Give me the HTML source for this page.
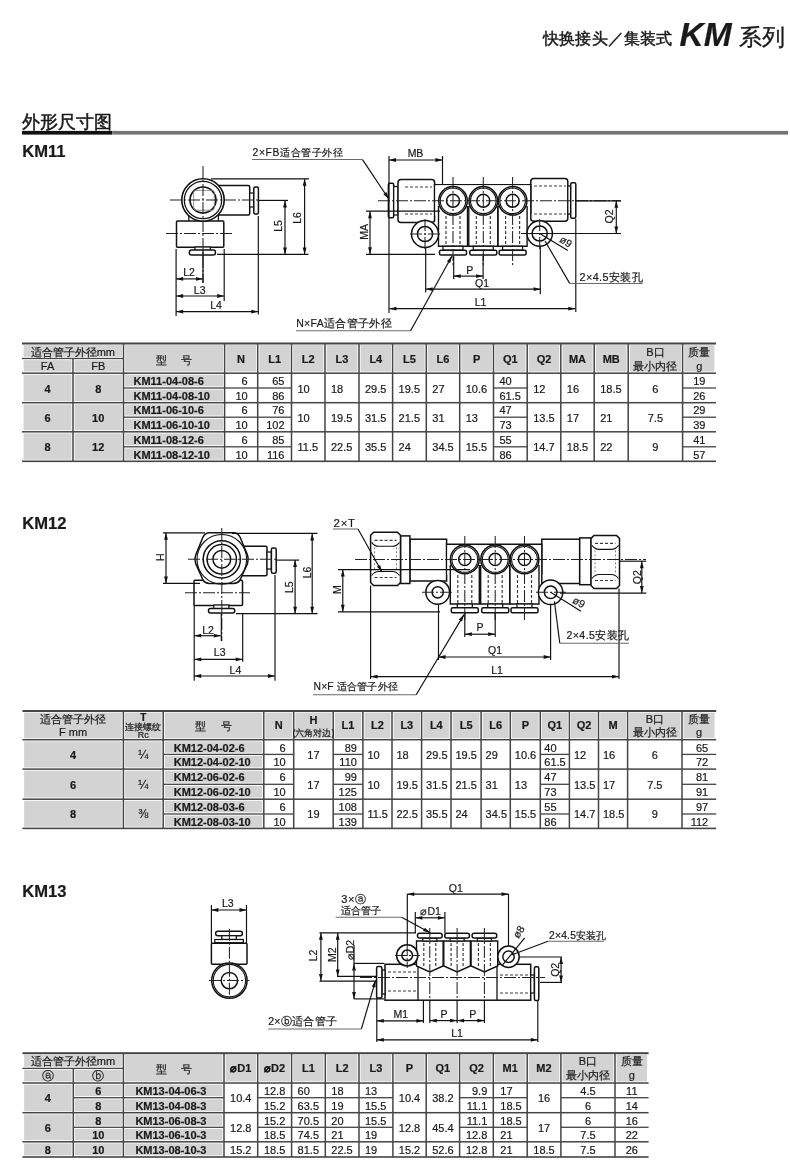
<!DOCTYPE html>
<html><head><meta charset="utf-8"><style>
html,body{margin:0;padding:0;background:#fff;width:790px;height:1175px;overflow:hidden}
svg{display:block;filter:grayscale(100%)}
text{font-family:"Liberation Sans", sans-serif;stroke:#1a1a1a;stroke-width:0.2px}
</style></head><body>
<svg width="790" height="1175" viewBox="0 0 790 1175">
<rect width="790" height="1175" fill="#fff"/>
<text x="543.0" y="44.0" font-size="16" font-weight="normal" text-anchor="start" fill="#1a1a1a" letter-spacing="0.2" style="stroke-width:0.45px">快换接头／集装式</text>
<text x="679.5" y="46.3" font-size="33.5" font-weight="bold" text-anchor="start" fill="#1a1a1a" font-style="italic">KM</text>
<text x="738.8" y="44.7" font-size="23" font-weight="normal" text-anchor="start" fill="#1a1a1a" style="stroke-width:0.35px">系列</text>
<text x="22.0" y="127.6" font-size="17.5" font-weight="normal" text-anchor="start" fill="#1a1a1a" style="stroke-width:0.5px">外形尺寸图</text>
<rect x="22.00" y="130.90" width="90.20" height="3.70" fill="#111"/>
<rect x="112.20" y="130.90" width="675.80" height="3.70" fill="#747474"/>
<text x="22.2" y="157.0" font-size="16.6" font-weight="bold" text-anchor="start" fill="#1a1a1a" >KM11</text>
<text x="22.2" y="528.6" font-size="16.6" font-weight="bold" text-anchor="start" fill="#1a1a1a" >KM12</text>
<text x="22.2" y="897.4" font-size="16.6" font-weight="bold" text-anchor="start" fill="#1a1a1a" >KM13</text>
<rect x="23.60" y="345.10" width="98.30" height="11.80" fill="#d3d3d3"/>
<rect x="23.60" y="360.10" width="47.80" height="11.50" fill="#d3d3d3"/>
<rect x="74.60" y="360.10" width="47.30" height="11.50" fill="#d3d3d3"/>
<rect x="125.10" y="345.10" width="97.90" height="26.50" fill="#d3d3d3"/>
<rect x="226.20" y="345.10" width="29.90" height="26.50" fill="#d3d3d3"/>
<rect x="259.30" y="345.10" width="30.60" height="26.50" fill="#d3d3d3"/>
<rect x="293.10" y="345.10" width="30.30" height="26.50" fill="#d3d3d3"/>
<rect x="326.60" y="345.10" width="30.80" height="26.50" fill="#d3d3d3"/>
<rect x="360.60" y="345.10" width="30.40" height="26.50" fill="#d3d3d3"/>
<rect x="394.20" y="345.10" width="30.50" height="26.50" fill="#d3d3d3"/>
<rect x="427.90" y="345.10" width="30.20" height="26.50" fill="#d3d3d3"/>
<rect x="461.30" y="345.10" width="30.60" height="26.50" fill="#d3d3d3"/>
<rect x="495.10" y="345.10" width="30.50" height="26.50" fill="#d3d3d3"/>
<rect x="528.80" y="345.10" width="30.40" height="26.50" fill="#d3d3d3"/>
<rect x="562.40" y="345.10" width="30.20" height="26.50" fill="#d3d3d3"/>
<rect x="595.80" y="345.10" width="30.80" height="26.50" fill="#d3d3d3"/>
<rect x="629.80" y="345.10" width="51.20" height="26.50" fill="#d3d3d3"/>
<rect x="684.20" y="345.10" width="30.20" height="26.50" fill="#d3d3d3"/>
<rect x="23.60" y="374.80" width="47.80" height="26.30" fill="#d3d3d3"/>
<rect x="74.60" y="374.80" width="47.30" height="26.30" fill="#d3d3d3"/>
<rect x="125.10" y="374.80" width="97.90" height="11.60" fill="#d3d3d3"/>
<rect x="125.10" y="389.60" width="97.90" height="11.50" fill="#d3d3d3"/>
<rect x="23.60" y="404.30" width="47.80" height="25.90" fill="#d3d3d3"/>
<rect x="74.60" y="404.30" width="47.30" height="25.90" fill="#d3d3d3"/>
<rect x="125.10" y="404.30" width="97.90" height="11.30" fill="#d3d3d3"/>
<rect x="125.10" y="418.80" width="97.90" height="11.40" fill="#d3d3d3"/>
<rect x="23.60" y="433.40" width="47.80" height="26.30" fill="#d3d3d3"/>
<rect x="74.60" y="433.40" width="47.30" height="26.30" fill="#d3d3d3"/>
<rect x="125.10" y="433.40" width="97.90" height="11.80" fill="#d3d3d3"/>
<rect x="125.10" y="448.40" width="97.90" height="11.30" fill="#d3d3d3"/>
<rect x="22.00" y="342.50" width="694.00" height="2.00" fill="#454545"/>
<rect x="22.00" y="357.85" width="101.50" height="1.30" fill="#454545"/>
<rect x="22.00" y="372.45" width="694.00" height="1.50" fill="#454545"/>
<rect x="22.00" y="401.95" width="694.00" height="1.50" fill="#454545"/>
<rect x="22.00" y="431.05" width="694.00" height="1.50" fill="#454545"/>
<rect x="22.00" y="460.50" width="694.00" height="1.60" fill="#454545"/>
<rect x="123.50" y="387.35" width="168.00" height="1.30" fill="#454545"/>
<rect x="493.50" y="387.35" width="33.70" height="1.30" fill="#454545"/>
<rect x="682.60" y="387.35" width="33.40" height="1.30" fill="#454545"/>
<rect x="123.50" y="416.55" width="168.00" height="1.30" fill="#454545"/>
<rect x="493.50" y="416.55" width="33.70" height="1.30" fill="#454545"/>
<rect x="682.60" y="416.55" width="33.40" height="1.30" fill="#454545"/>
<rect x="123.50" y="446.15" width="168.00" height="1.30" fill="#454545"/>
<rect x="493.50" y="446.15" width="33.70" height="1.30" fill="#454545"/>
<rect x="682.60" y="446.15" width="33.40" height="1.30" fill="#454545"/>
<rect x="72.25" y="358.50" width="1.50" height="102.80" fill="#454545"/>
<rect x="122.75" y="343.50" width="1.50" height="117.80" fill="#454545"/>
<rect x="223.85" y="343.50" width="1.50" height="117.80" fill="#454545"/>
<rect x="256.95" y="343.50" width="1.50" height="117.80" fill="#454545"/>
<rect x="290.75" y="343.50" width="1.50" height="117.80" fill="#454545"/>
<rect x="324.25" y="343.50" width="1.50" height="117.80" fill="#454545"/>
<rect x="358.25" y="343.50" width="1.50" height="117.80" fill="#454545"/>
<rect x="391.85" y="343.50" width="1.50" height="117.80" fill="#454545"/>
<rect x="425.55" y="343.50" width="1.50" height="117.80" fill="#454545"/>
<rect x="458.95" y="343.50" width="1.50" height="117.80" fill="#454545"/>
<rect x="492.75" y="343.50" width="1.50" height="117.80" fill="#454545"/>
<rect x="526.45" y="343.50" width="1.50" height="117.80" fill="#454545"/>
<rect x="560.05" y="343.50" width="1.50" height="117.80" fill="#454545"/>
<rect x="593.45" y="343.50" width="1.50" height="117.80" fill="#454545"/>
<rect x="627.45" y="343.50" width="1.50" height="117.80" fill="#454545"/>
<rect x="681.85" y="343.50" width="1.50" height="117.80" fill="#454545"/>
<text x="72.8" y="355.5" font-size="11" font-weight="normal" text-anchor="middle" fill="#1a1a1a" >适合管子外径mm</text>
<text x="47.5" y="370.0" font-size="11" font-weight="normal" text-anchor="middle" fill="#1a1a1a" >FA</text>
<text x="98.2" y="370.0" font-size="11" font-weight="normal" text-anchor="middle" fill="#1a1a1a" >FB</text>
<text x="174.1" y="364.0" font-size="11" font-weight="normal" text-anchor="middle" fill="#1a1a1a" >型　 号</text>
<text x="241.1" y="362.5" font-size="11" font-weight="bold" text-anchor="middle" fill="#1a1a1a" >N</text>
<text x="274.6" y="362.5" font-size="11" font-weight="bold" text-anchor="middle" fill="#1a1a1a" >L1</text>
<text x="308.2" y="362.5" font-size="11" font-weight="bold" text-anchor="middle" fill="#1a1a1a" >L2</text>
<text x="342.0" y="362.5" font-size="11" font-weight="bold" text-anchor="middle" fill="#1a1a1a" >L3</text>
<text x="375.8" y="362.5" font-size="11" font-weight="bold" text-anchor="middle" fill="#1a1a1a" >L4</text>
<text x="409.5" y="362.5" font-size="11" font-weight="bold" text-anchor="middle" fill="#1a1a1a" >L5</text>
<text x="443.0" y="362.5" font-size="11" font-weight="bold" text-anchor="middle" fill="#1a1a1a" >L6</text>
<text x="476.6" y="362.5" font-size="11" font-weight="bold" text-anchor="middle" fill="#1a1a1a" >P</text>
<text x="510.4" y="362.5" font-size="11" font-weight="bold" text-anchor="middle" fill="#1a1a1a" >Q1</text>
<text x="544.0" y="362.5" font-size="11" font-weight="bold" text-anchor="middle" fill="#1a1a1a" >Q2</text>
<text x="577.5" y="362.5" font-size="11" font-weight="bold" text-anchor="middle" fill="#1a1a1a" >MA</text>
<text x="611.2" y="362.5" font-size="11" font-weight="bold" text-anchor="middle" fill="#1a1a1a" >MB</text>
<text x="655.4" y="355.5" font-size="11" font-weight="normal" text-anchor="middle" fill="#1a1a1a" >B口</text>
<text x="655.4" y="369.5" font-size="11" font-weight="normal" text-anchor="middle" fill="#1a1a1a" >最小内径</text>
<text x="699.3" y="355.5" font-size="11" font-weight="normal" text-anchor="middle" fill="#1a1a1a" >质量</text>
<text x="699.3" y="369.5" font-size="11" font-weight="normal" text-anchor="middle" fill="#1a1a1a" >g</text>
<text x="47.5" y="392.6" font-size="11" font-weight="bold" text-anchor="middle" fill="#1a1a1a" >4</text>
<text x="98.2" y="392.6" font-size="11" font-weight="bold" text-anchor="middle" fill="#1a1a1a" >8</text>
<text x="297.5" y="392.6" font-size="11" font-weight="normal" text-anchor="start" fill="#1a1a1a" >10</text>
<text x="331.0" y="392.6" font-size="11" font-weight="normal" text-anchor="start" fill="#1a1a1a" >18</text>
<text x="365.0" y="392.6" font-size="11" font-weight="normal" text-anchor="start" fill="#1a1a1a" >29.5</text>
<text x="398.6" y="392.6" font-size="11" font-weight="normal" text-anchor="start" fill="#1a1a1a" >19.5</text>
<text x="432.3" y="392.6" font-size="11" font-weight="normal" text-anchor="start" fill="#1a1a1a" >27</text>
<text x="465.7" y="392.6" font-size="11" font-weight="normal" text-anchor="start" fill="#1a1a1a" >10.6</text>
<text x="533.2" y="392.6" font-size="11" font-weight="normal" text-anchor="start" fill="#1a1a1a" >12</text>
<text x="566.8" y="392.6" font-size="11" font-weight="normal" text-anchor="start" fill="#1a1a1a" >16</text>
<text x="600.2" y="392.6" font-size="11" font-weight="normal" text-anchor="start" fill="#1a1a1a" >18.5</text>
<text x="655.4" y="392.6" font-size="11" font-weight="normal" text-anchor="middle" fill="#1a1a1a" >6</text>
<text x="47.5" y="421.9" font-size="11" font-weight="bold" text-anchor="middle" fill="#1a1a1a" >6</text>
<text x="98.2" y="421.9" font-size="11" font-weight="bold" text-anchor="middle" fill="#1a1a1a" >10</text>
<text x="297.5" y="421.9" font-size="11" font-weight="normal" text-anchor="start" fill="#1a1a1a" >10</text>
<text x="331.0" y="421.9" font-size="11" font-weight="normal" text-anchor="start" fill="#1a1a1a" >19.5</text>
<text x="365.0" y="421.9" font-size="11" font-weight="normal" text-anchor="start" fill="#1a1a1a" >31.5</text>
<text x="398.6" y="421.9" font-size="11" font-weight="normal" text-anchor="start" fill="#1a1a1a" >21.5</text>
<text x="432.3" y="421.9" font-size="11" font-weight="normal" text-anchor="start" fill="#1a1a1a" >31</text>
<text x="465.7" y="421.9" font-size="11" font-weight="normal" text-anchor="start" fill="#1a1a1a" >13</text>
<text x="533.2" y="421.9" font-size="11" font-weight="normal" text-anchor="start" fill="#1a1a1a" >13.5</text>
<text x="566.8" y="421.9" font-size="11" font-weight="normal" text-anchor="start" fill="#1a1a1a" >17</text>
<text x="600.2" y="421.9" font-size="11" font-weight="normal" text-anchor="start" fill="#1a1a1a" >21</text>
<text x="655.4" y="421.9" font-size="11" font-weight="normal" text-anchor="middle" fill="#1a1a1a" >7.5</text>
<text x="47.5" y="451.2" font-size="11" font-weight="bold" text-anchor="middle" fill="#1a1a1a" >8</text>
<text x="98.2" y="451.2" font-size="11" font-weight="bold" text-anchor="middle" fill="#1a1a1a" >12</text>
<text x="297.5" y="451.2" font-size="11" font-weight="normal" text-anchor="start" fill="#1a1a1a" >11.5</text>
<text x="331.0" y="451.2" font-size="11" font-weight="normal" text-anchor="start" fill="#1a1a1a" >22.5</text>
<text x="365.0" y="451.2" font-size="11" font-weight="normal" text-anchor="start" fill="#1a1a1a" >35.5</text>
<text x="398.6" y="451.2" font-size="11" font-weight="normal" text-anchor="start" fill="#1a1a1a" >24</text>
<text x="432.3" y="451.2" font-size="11" font-weight="normal" text-anchor="start" fill="#1a1a1a" >34.5</text>
<text x="465.7" y="451.2" font-size="11" font-weight="normal" text-anchor="start" fill="#1a1a1a" >15.5</text>
<text x="533.2" y="451.2" font-size="11" font-weight="normal" text-anchor="start" fill="#1a1a1a" >14.7</text>
<text x="566.8" y="451.2" font-size="11" font-weight="normal" text-anchor="start" fill="#1a1a1a" >18.5</text>
<text x="600.2" y="451.2" font-size="11" font-weight="normal" text-anchor="start" fill="#1a1a1a" >22</text>
<text x="655.4" y="451.2" font-size="11" font-weight="normal" text-anchor="middle" fill="#1a1a1a" >9</text>
<text x="133.5" y="385.1" font-size="11" font-weight="bold" text-anchor="start" fill="#1a1a1a" >KM11-04-08-6</text>
<text x="247.7" y="385.1" font-size="11" font-weight="normal" text-anchor="end" fill="#1a1a1a" >6</text>
<text x="284.5" y="385.1" font-size="11" font-weight="normal" text-anchor="end" fill="#1a1a1a" >65</text>
<text x="499.5" y="385.1" font-size="11" font-weight="normal" text-anchor="start" fill="#1a1a1a" >40</text>
<text x="699.3" y="385.1" font-size="11" font-weight="normal" text-anchor="middle" fill="#1a1a1a" >19</text>
<text x="133.5" y="399.9" font-size="11" font-weight="bold" text-anchor="start" fill="#1a1a1a" >KM11-04-08-10</text>
<text x="247.7" y="399.9" font-size="11" font-weight="normal" text-anchor="end" fill="#1a1a1a" >10</text>
<text x="284.5" y="399.9" font-size="11" font-weight="normal" text-anchor="end" fill="#1a1a1a" >86</text>
<text x="499.5" y="399.9" font-size="11" font-weight="normal" text-anchor="start" fill="#1a1a1a" >61.5</text>
<text x="699.3" y="399.9" font-size="11" font-weight="normal" text-anchor="middle" fill="#1a1a1a" >26</text>
<text x="133.5" y="414.4" font-size="11" font-weight="bold" text-anchor="start" fill="#1a1a1a" >KM11-06-10-6</text>
<text x="247.7" y="414.4" font-size="11" font-weight="normal" text-anchor="end" fill="#1a1a1a" >6</text>
<text x="284.5" y="414.4" font-size="11" font-weight="normal" text-anchor="end" fill="#1a1a1a" >76</text>
<text x="499.5" y="414.4" font-size="11" font-weight="normal" text-anchor="start" fill="#1a1a1a" >47</text>
<text x="699.3" y="414.4" font-size="11" font-weight="normal" text-anchor="middle" fill="#1a1a1a" >29</text>
<text x="133.5" y="429.0" font-size="11" font-weight="bold" text-anchor="start" fill="#1a1a1a" >KM11-06-10-10</text>
<text x="247.7" y="429.0" font-size="11" font-weight="normal" text-anchor="end" fill="#1a1a1a" >10</text>
<text x="284.5" y="429.0" font-size="11" font-weight="normal" text-anchor="end" fill="#1a1a1a" >102</text>
<text x="499.5" y="429.0" font-size="11" font-weight="normal" text-anchor="start" fill="#1a1a1a" >73</text>
<text x="699.3" y="429.0" font-size="11" font-weight="normal" text-anchor="middle" fill="#1a1a1a" >39</text>
<text x="133.5" y="443.8" font-size="11" font-weight="bold" text-anchor="start" fill="#1a1a1a" >KM11-08-12-6</text>
<text x="247.7" y="443.8" font-size="11" font-weight="normal" text-anchor="end" fill="#1a1a1a" >6</text>
<text x="284.5" y="443.8" font-size="11" font-weight="normal" text-anchor="end" fill="#1a1a1a" >85</text>
<text x="499.5" y="443.8" font-size="11" font-weight="normal" text-anchor="start" fill="#1a1a1a" >55</text>
<text x="699.3" y="443.8" font-size="11" font-weight="normal" text-anchor="middle" fill="#1a1a1a" >41</text>
<text x="133.5" y="458.6" font-size="11" font-weight="bold" text-anchor="start" fill="#1a1a1a" >KM11-08-12-10</text>
<text x="247.7" y="458.6" font-size="11" font-weight="normal" text-anchor="end" fill="#1a1a1a" >10</text>
<text x="284.5" y="458.6" font-size="11" font-weight="normal" text-anchor="end" fill="#1a1a1a" >116</text>
<text x="499.5" y="458.6" font-size="11" font-weight="normal" text-anchor="start" fill="#1a1a1a" >86</text>
<text x="699.3" y="458.6" font-size="11" font-weight="normal" text-anchor="middle" fill="#1a1a1a" >57</text>
<rect x="24.10" y="712.60" width="97.70" height="25.50" fill="#d3d3d3"/>
<rect x="125.00" y="712.60" width="36.60" height="25.50" fill="#d3d3d3"/>
<rect x="164.80" y="712.60" width="97.40" height="25.50" fill="#d3d3d3"/>
<rect x="265.40" y="712.60" width="26.70" height="25.50" fill="#d3d3d3"/>
<rect x="295.30" y="712.60" width="36.30" height="25.50" fill="#d3d3d3"/>
<rect x="334.80" y="712.60" width="26.50" height="25.50" fill="#d3d3d3"/>
<rect x="364.50" y="712.60" width="25.90" height="25.50" fill="#d3d3d3"/>
<rect x="393.60" y="712.60" width="26.40" height="25.50" fill="#d3d3d3"/>
<rect x="423.20" y="712.60" width="26.20" height="25.50" fill="#d3d3d3"/>
<rect x="452.60" y="712.60" width="26.90" height="25.50" fill="#d3d3d3"/>
<rect x="482.70" y="712.60" width="26.00" height="25.50" fill="#d3d3d3"/>
<rect x="511.90" y="712.60" width="26.80" height="25.50" fill="#d3d3d3"/>
<rect x="541.90" y="712.60" width="25.90" height="25.50" fill="#d3d3d3"/>
<rect x="571.00" y="712.60" width="25.90" height="25.50" fill="#d3d3d3"/>
<rect x="600.10" y="712.60" width="25.90" height="25.50" fill="#d3d3d3"/>
<rect x="629.20" y="712.60" width="51.20" height="25.50" fill="#d3d3d3"/>
<rect x="683.60" y="712.60" width="31.00" height="25.50" fill="#d3d3d3"/>
<rect x="24.10" y="741.30" width="97.70" height="26.20" fill="#d3d3d3"/>
<rect x="125.00" y="741.30" width="36.60" height="26.20" fill="#d3d3d3"/>
<rect x="164.80" y="741.30" width="97.40" height="11.50" fill="#d3d3d3"/>
<rect x="164.80" y="756.00" width="97.40" height="11.50" fill="#d3d3d3"/>
<rect x="24.10" y="770.70" width="97.70" height="26.90" fill="#d3d3d3"/>
<rect x="125.00" y="770.70" width="36.60" height="26.90" fill="#d3d3d3"/>
<rect x="164.80" y="770.70" width="97.40" height="12.00" fill="#d3d3d3"/>
<rect x="164.80" y="785.90" width="97.40" height="11.70" fill="#d3d3d3"/>
<rect x="24.10" y="800.80" width="97.70" height="26.00" fill="#d3d3d3"/>
<rect x="125.00" y="800.80" width="36.60" height="26.00" fill="#d3d3d3"/>
<rect x="164.80" y="800.80" width="97.40" height="11.60" fill="#d3d3d3"/>
<rect x="164.80" y="815.60" width="97.40" height="11.20" fill="#d3d3d3"/>
<rect x="22.50" y="710.00" width="693.70" height="2.00" fill="#454545"/>
<rect x="22.50" y="738.95" width="693.70" height="1.50" fill="#454545"/>
<rect x="22.50" y="768.35" width="693.70" height="1.50" fill="#454545"/>
<rect x="22.50" y="798.45" width="693.70" height="1.50" fill="#454545"/>
<rect x="22.50" y="827.60" width="693.70" height="1.60" fill="#454545"/>
<rect x="163.20" y="753.75" width="130.50" height="1.30" fill="#454545"/>
<rect x="333.20" y="753.75" width="29.70" height="1.30" fill="#454545"/>
<rect x="540.30" y="753.75" width="29.10" height="1.30" fill="#454545"/>
<rect x="682.00" y="753.75" width="34.20" height="1.30" fill="#454545"/>
<rect x="163.20" y="783.65" width="130.50" height="1.30" fill="#454545"/>
<rect x="333.20" y="783.65" width="29.70" height="1.30" fill="#454545"/>
<rect x="540.30" y="783.65" width="29.10" height="1.30" fill="#454545"/>
<rect x="682.00" y="783.65" width="34.20" height="1.30" fill="#454545"/>
<rect x="163.20" y="813.35" width="130.50" height="1.30" fill="#454545"/>
<rect x="333.20" y="813.35" width="29.70" height="1.30" fill="#454545"/>
<rect x="540.30" y="813.35" width="29.10" height="1.30" fill="#454545"/>
<rect x="682.00" y="813.35" width="34.20" height="1.30" fill="#454545"/>
<rect x="122.65" y="711.00" width="1.50" height="117.40" fill="#454545"/>
<rect x="162.45" y="711.00" width="1.50" height="117.40" fill="#454545"/>
<rect x="263.05" y="711.00" width="1.50" height="117.40" fill="#454545"/>
<rect x="292.95" y="711.00" width="1.50" height="117.40" fill="#454545"/>
<rect x="332.45" y="711.00" width="1.50" height="117.40" fill="#454545"/>
<rect x="362.15" y="711.00" width="1.50" height="117.40" fill="#454545"/>
<rect x="391.25" y="711.00" width="1.50" height="117.40" fill="#454545"/>
<rect x="420.85" y="711.00" width="1.50" height="117.40" fill="#454545"/>
<rect x="450.25" y="711.00" width="1.50" height="117.40" fill="#454545"/>
<rect x="480.35" y="711.00" width="1.50" height="117.40" fill="#454545"/>
<rect x="509.55" y="711.00" width="1.50" height="117.40" fill="#454545"/>
<rect x="539.55" y="711.00" width="1.50" height="117.40" fill="#454545"/>
<rect x="568.65" y="711.00" width="1.50" height="117.40" fill="#454545"/>
<rect x="597.75" y="711.00" width="1.50" height="117.40" fill="#454545"/>
<rect x="626.85" y="711.00" width="1.50" height="117.40" fill="#454545"/>
<rect x="681.25" y="711.00" width="1.50" height="117.40" fill="#454545"/>
<text x="73.0" y="723.0" font-size="11" font-weight="normal" text-anchor="middle" fill="#1a1a1a" >适合管子外径</text>
<text x="73.0" y="736.0" font-size="11" font-weight="normal" text-anchor="middle" fill="#1a1a1a" >F mm</text>
<text x="143.3" y="721.0" font-size="10" font-weight="bold" text-anchor="middle" fill="#1a1a1a" >T</text>
<text x="143.3" y="730.0" font-size="8.5" font-weight="normal" text-anchor="middle" fill="#1a1a1a" >连接螺纹</text>
<text x="143.3" y="738.0" font-size="9" font-weight="normal" text-anchor="middle" fill="#1a1a1a" >Rc</text>
<text x="213.5" y="730.0" font-size="11" font-weight="normal" text-anchor="middle" fill="#1a1a1a" >型　 号</text>
<text x="278.8" y="729.0" font-size="11" font-weight="bold" text-anchor="middle" fill="#1a1a1a" >N</text>
<text x="313.4" y="724.0" font-size="11" font-weight="bold" text-anchor="middle" fill="#1a1a1a" >H</text>
<text x="313.4" y="736.0" font-size="9" font-weight="normal" text-anchor="middle" fill="#1a1a1a" >(六角对边)</text>
<text x="348.0" y="729.0" font-size="11" font-weight="bold" text-anchor="middle" fill="#1a1a1a" >L1</text>
<text x="377.4" y="729.0" font-size="11" font-weight="bold" text-anchor="middle" fill="#1a1a1a" >L2</text>
<text x="406.8" y="729.0" font-size="11" font-weight="bold" text-anchor="middle" fill="#1a1a1a" >L3</text>
<text x="436.3" y="729.0" font-size="11" font-weight="bold" text-anchor="middle" fill="#1a1a1a" >L4</text>
<text x="466.1" y="729.0" font-size="11" font-weight="bold" text-anchor="middle" fill="#1a1a1a" >L5</text>
<text x="495.7" y="729.0" font-size="11" font-weight="bold" text-anchor="middle" fill="#1a1a1a" >L6</text>
<text x="525.3" y="729.0" font-size="11" font-weight="bold" text-anchor="middle" fill="#1a1a1a" >P</text>
<text x="554.8" y="729.0" font-size="11" font-weight="bold" text-anchor="middle" fill="#1a1a1a" >Q1</text>
<text x="584.0" y="729.0" font-size="11" font-weight="bold" text-anchor="middle" fill="#1a1a1a" >Q2</text>
<text x="613.0" y="729.0" font-size="11" font-weight="bold" text-anchor="middle" fill="#1a1a1a" >M</text>
<text x="654.8" y="723.0" font-size="11" font-weight="normal" text-anchor="middle" fill="#1a1a1a" >B口</text>
<text x="654.8" y="736.0" font-size="11" font-weight="normal" text-anchor="middle" fill="#1a1a1a" >最小内径</text>
<text x="699.1" y="723.0" font-size="11" font-weight="normal" text-anchor="middle" fill="#1a1a1a" >质量</text>
<text x="699.1" y="736.0" font-size="11" font-weight="normal" text-anchor="middle" fill="#1a1a1a" >g</text>
<text x="73.0" y="759.0" font-size="11" font-weight="bold" text-anchor="middle" fill="#1a1a1a" >4</text>
<text x="143.3" y="759.0" font-size="12" font-weight="normal" text-anchor="middle" fill="#1a1a1a" >¼</text>
<text x="313.4" y="759.0" font-size="11" font-weight="normal" text-anchor="middle" fill="#1a1a1a" >17</text>
<text x="367.4" y="759.0" font-size="11" font-weight="normal" text-anchor="start" fill="#1a1a1a" >10</text>
<text x="396.5" y="759.0" font-size="11" font-weight="normal" text-anchor="start" fill="#1a1a1a" >18</text>
<text x="426.1" y="759.0" font-size="11" font-weight="normal" text-anchor="start" fill="#1a1a1a" >29.5</text>
<text x="455.5" y="759.0" font-size="11" font-weight="normal" text-anchor="start" fill="#1a1a1a" >19.5</text>
<text x="485.6" y="759.0" font-size="11" font-weight="normal" text-anchor="start" fill="#1a1a1a" >29</text>
<text x="514.8" y="759.0" font-size="11" font-weight="normal" text-anchor="start" fill="#1a1a1a" >10.6</text>
<text x="573.9" y="759.0" font-size="11" font-weight="normal" text-anchor="start" fill="#1a1a1a" >12</text>
<text x="603.0" y="759.0" font-size="11" font-weight="normal" text-anchor="start" fill="#1a1a1a" >16</text>
<text x="654.8" y="759.0" font-size="11" font-weight="normal" text-anchor="middle" fill="#1a1a1a" >6</text>
<text x="73.0" y="788.8" font-size="11" font-weight="bold" text-anchor="middle" fill="#1a1a1a" >6</text>
<text x="143.3" y="788.8" font-size="12" font-weight="normal" text-anchor="middle" fill="#1a1a1a" >¼</text>
<text x="313.4" y="788.8" font-size="11" font-weight="normal" text-anchor="middle" fill="#1a1a1a" >17</text>
<text x="367.4" y="788.8" font-size="11" font-weight="normal" text-anchor="start" fill="#1a1a1a" >10</text>
<text x="396.5" y="788.8" font-size="11" font-weight="normal" text-anchor="start" fill="#1a1a1a" >19.5</text>
<text x="426.1" y="788.8" font-size="11" font-weight="normal" text-anchor="start" fill="#1a1a1a" >31.5</text>
<text x="455.5" y="788.8" font-size="11" font-weight="normal" text-anchor="start" fill="#1a1a1a" >21.5</text>
<text x="485.6" y="788.8" font-size="11" font-weight="normal" text-anchor="start" fill="#1a1a1a" >31</text>
<text x="514.8" y="788.8" font-size="11" font-weight="normal" text-anchor="start" fill="#1a1a1a" >13</text>
<text x="573.9" y="788.8" font-size="11" font-weight="normal" text-anchor="start" fill="#1a1a1a" >13.5</text>
<text x="603.0" y="788.8" font-size="11" font-weight="normal" text-anchor="start" fill="#1a1a1a" >17</text>
<text x="654.8" y="788.8" font-size="11" font-weight="normal" text-anchor="middle" fill="#1a1a1a" >7.5</text>
<text x="73.0" y="818.4" font-size="11" font-weight="bold" text-anchor="middle" fill="#1a1a1a" >8</text>
<text x="143.3" y="818.4" font-size="12" font-weight="normal" text-anchor="middle" fill="#1a1a1a" >⅜</text>
<text x="313.4" y="818.4" font-size="11" font-weight="normal" text-anchor="middle" fill="#1a1a1a" >19</text>
<text x="367.4" y="818.4" font-size="11" font-weight="normal" text-anchor="start" fill="#1a1a1a" >11.5</text>
<text x="396.5" y="818.4" font-size="11" font-weight="normal" text-anchor="start" fill="#1a1a1a" >22.5</text>
<text x="426.1" y="818.4" font-size="11" font-weight="normal" text-anchor="start" fill="#1a1a1a" >35.5</text>
<text x="455.5" y="818.4" font-size="11" font-weight="normal" text-anchor="start" fill="#1a1a1a" >24</text>
<text x="485.6" y="818.4" font-size="11" font-weight="normal" text-anchor="start" fill="#1a1a1a" >34.5</text>
<text x="514.8" y="818.4" font-size="11" font-weight="normal" text-anchor="start" fill="#1a1a1a" >15.5</text>
<text x="573.9" y="818.4" font-size="11" font-weight="normal" text-anchor="start" fill="#1a1a1a" >14.7</text>
<text x="603.0" y="818.4" font-size="11" font-weight="normal" text-anchor="start" fill="#1a1a1a" >18.5</text>
<text x="654.8" y="818.4" font-size="11" font-weight="normal" text-anchor="middle" fill="#1a1a1a" >9</text>
<text x="173.7" y="751.5" font-size="11" font-weight="bold" text-anchor="start" fill="#1a1a1a" >KM12-04-02-6</text>
<text x="285.7" y="751.5" font-size="11" font-weight="normal" text-anchor="end" fill="#1a1a1a" >6</text>
<text x="356.9" y="751.5" font-size="11" font-weight="normal" text-anchor="end" fill="#1a1a1a" >89</text>
<text x="544.3" y="751.5" font-size="11" font-weight="normal" text-anchor="start" fill="#1a1a1a" >40</text>
<text x="708.2" y="751.5" font-size="11" font-weight="normal" text-anchor="end" fill="#1a1a1a" >65</text>
<text x="173.7" y="766.2" font-size="11" font-weight="bold" text-anchor="start" fill="#1a1a1a" >KM12-04-02-10</text>
<text x="285.7" y="766.2" font-size="11" font-weight="normal" text-anchor="end" fill="#1a1a1a" >10</text>
<text x="356.9" y="766.2" font-size="11" font-weight="normal" text-anchor="end" fill="#1a1a1a" >110</text>
<text x="544.3" y="766.2" font-size="11" font-weight="normal" text-anchor="start" fill="#1a1a1a" >61.5</text>
<text x="708.2" y="766.2" font-size="11" font-weight="normal" text-anchor="end" fill="#1a1a1a" >72</text>
<text x="173.7" y="781.2" font-size="11" font-weight="bold" text-anchor="start" fill="#1a1a1a" >KM12-06-02-6</text>
<text x="285.7" y="781.2" font-size="11" font-weight="normal" text-anchor="end" fill="#1a1a1a" >6</text>
<text x="356.9" y="781.2" font-size="11" font-weight="normal" text-anchor="end" fill="#1a1a1a" >99</text>
<text x="544.3" y="781.2" font-size="11" font-weight="normal" text-anchor="start" fill="#1a1a1a" >47</text>
<text x="708.2" y="781.2" font-size="11" font-weight="normal" text-anchor="end" fill="#1a1a1a" >81</text>
<text x="173.7" y="796.2" font-size="11" font-weight="bold" text-anchor="start" fill="#1a1a1a" >KM12-06-02-10</text>
<text x="285.7" y="796.2" font-size="11" font-weight="normal" text-anchor="end" fill="#1a1a1a" >10</text>
<text x="356.9" y="796.2" font-size="11" font-weight="normal" text-anchor="end" fill="#1a1a1a" >125</text>
<text x="544.3" y="796.2" font-size="11" font-weight="normal" text-anchor="start" fill="#1a1a1a" >73</text>
<text x="708.2" y="796.2" font-size="11" font-weight="normal" text-anchor="end" fill="#1a1a1a" >91</text>
<text x="173.7" y="811.1" font-size="11" font-weight="bold" text-anchor="start" fill="#1a1a1a" >KM12-08-03-6</text>
<text x="285.7" y="811.1" font-size="11" font-weight="normal" text-anchor="end" fill="#1a1a1a" >6</text>
<text x="356.9" y="811.1" font-size="11" font-weight="normal" text-anchor="end" fill="#1a1a1a" >108</text>
<text x="544.3" y="811.1" font-size="11" font-weight="normal" text-anchor="start" fill="#1a1a1a" >55</text>
<text x="708.2" y="811.1" font-size="11" font-weight="normal" text-anchor="end" fill="#1a1a1a" >97</text>
<text x="173.7" y="825.7" font-size="11" font-weight="bold" text-anchor="start" fill="#1a1a1a" >KM12-08-03-10</text>
<text x="285.7" y="825.7" font-size="11" font-weight="normal" text-anchor="end" fill="#1a1a1a" >10</text>
<text x="356.9" y="825.7" font-size="11" font-weight="normal" text-anchor="end" fill="#1a1a1a" >139</text>
<text x="544.3" y="825.7" font-size="11" font-weight="normal" text-anchor="start" fill="#1a1a1a" >86</text>
<text x="708.2" y="825.7" font-size="11" font-weight="normal" text-anchor="end" fill="#1a1a1a" >112</text>
<rect x="24.10" y="1054.80" width="97.70" height="12.00" fill="#d3d3d3"/>
<rect x="24.10" y="1070.00" width="47.60" height="11.40" fill="#d3d3d3"/>
<rect x="74.90" y="1070.00" width="46.90" height="11.40" fill="#d3d3d3"/>
<rect x="125.00" y="1054.80" width="97.40" height="26.60" fill="#d3d3d3"/>
<rect x="225.60" y="1054.80" width="30.50" height="26.60" fill="#d3d3d3"/>
<rect x="259.30" y="1054.80" width="30.70" height="26.60" fill="#d3d3d3"/>
<rect x="293.20" y="1054.80" width="30.50" height="26.60" fill="#d3d3d3"/>
<rect x="326.90" y="1054.80" width="30.50" height="26.60" fill="#d3d3d3"/>
<rect x="360.60" y="1054.80" width="30.70" height="26.60" fill="#d3d3d3"/>
<rect x="394.50" y="1054.80" width="30.10" height="26.60" fill="#d3d3d3"/>
<rect x="427.80" y="1054.80" width="30.20" height="26.60" fill="#d3d3d3"/>
<rect x="461.20" y="1054.80" width="30.50" height="26.60" fill="#d3d3d3"/>
<rect x="494.90" y="1054.80" width="30.70" height="26.60" fill="#d3d3d3"/>
<rect x="528.80" y="1054.80" width="30.50" height="26.60" fill="#d3d3d3"/>
<rect x="562.50" y="1054.80" width="50.90" height="26.60" fill="#d3d3d3"/>
<rect x="616.60" y="1054.80" width="30.40" height="26.60" fill="#d3d3d3"/>
<rect x="24.10" y="1084.60" width="47.60" height="26.50" fill="#d3d3d3"/>
<rect x="24.10" y="1114.30" width="47.60" height="25.90" fill="#d3d3d3"/>
<rect x="24.10" y="1143.40" width="47.60" height="12.00" fill="#d3d3d3"/>
<rect x="74.90" y="1084.60" width="46.90" height="11.50" fill="#d3d3d3"/>
<rect x="125.00" y="1084.60" width="97.40" height="11.50" fill="#d3d3d3"/>
<rect x="74.90" y="1099.30" width="46.90" height="11.80" fill="#d3d3d3"/>
<rect x="125.00" y="1099.30" width="97.40" height="11.80" fill="#d3d3d3"/>
<rect x="74.90" y="1114.30" width="46.90" height="11.40" fill="#d3d3d3"/>
<rect x="125.00" y="1114.30" width="97.40" height="11.40" fill="#d3d3d3"/>
<rect x="74.90" y="1128.90" width="46.90" height="11.30" fill="#d3d3d3"/>
<rect x="125.00" y="1128.90" width="97.40" height="11.30" fill="#d3d3d3"/>
<rect x="74.90" y="1143.40" width="46.90" height="12.00" fill="#d3d3d3"/>
<rect x="125.00" y="1143.40" width="97.40" height="12.00" fill="#d3d3d3"/>
<rect x="22.50" y="1052.20" width="626.10" height="2.00" fill="#454545"/>
<rect x="22.50" y="1067.75" width="100.90" height="1.30" fill="#454545"/>
<rect x="22.50" y="1082.25" width="626.10" height="1.50" fill="#454545"/>
<rect x="22.50" y="1111.95" width="626.10" height="1.50" fill="#454545"/>
<rect x="22.50" y="1141.05" width="626.10" height="1.50" fill="#454545"/>
<rect x="22.50" y="1156.20" width="626.10" height="1.60" fill="#454545"/>
<rect x="73.30" y="1097.05" width="150.70" height="1.30" fill="#454545"/>
<rect x="257.70" y="1097.05" width="135.20" height="1.30" fill="#454545"/>
<rect x="459.60" y="1097.05" width="67.60" height="1.30" fill="#454545"/>
<rect x="560.90" y="1097.05" width="87.70" height="1.30" fill="#454545"/>
<rect x="73.30" y="1126.65" width="150.70" height="1.30" fill="#454545"/>
<rect x="257.70" y="1126.65" width="135.20" height="1.30" fill="#454545"/>
<rect x="459.60" y="1126.65" width="67.60" height="1.30" fill="#454545"/>
<rect x="560.90" y="1126.65" width="87.70" height="1.30" fill="#454545"/>
<rect x="72.55" y="1068.40" width="1.50" height="88.60" fill="#454545"/>
<rect x="122.65" y="1053.20" width="1.50" height="103.80" fill="#454545"/>
<rect x="223.25" y="1053.20" width="1.50" height="103.80" fill="#454545"/>
<rect x="256.95" y="1053.20" width="1.50" height="103.80" fill="#454545"/>
<rect x="290.85" y="1053.20" width="1.50" height="103.80" fill="#454545"/>
<rect x="324.55" y="1053.20" width="1.50" height="103.80" fill="#454545"/>
<rect x="358.25" y="1053.20" width="1.50" height="103.80" fill="#454545"/>
<rect x="392.15" y="1053.20" width="1.50" height="103.80" fill="#454545"/>
<rect x="425.45" y="1053.20" width="1.50" height="103.80" fill="#454545"/>
<rect x="458.85" y="1053.20" width="1.50" height="103.80" fill="#454545"/>
<rect x="492.55" y="1053.20" width="1.50" height="103.80" fill="#454545"/>
<rect x="526.45" y="1053.20" width="1.50" height="103.80" fill="#454545"/>
<rect x="560.15" y="1053.20" width="1.50" height="103.80" fill="#454545"/>
<rect x="614.25" y="1053.20" width="1.50" height="103.80" fill="#454545"/>
<text x="73.0" y="1065.0" font-size="11" font-weight="normal" text-anchor="middle" fill="#1a1a1a" >适合管子外径mm</text>
<text x="47.9" y="1080.0" font-size="12" font-weight="normal" text-anchor="middle" fill="#1a1a1a" >ⓐ</text>
<text x="98.3" y="1080.0" font-size="12" font-weight="normal" text-anchor="middle" fill="#1a1a1a" >ⓑ</text>
<text x="173.7" y="1073.0" font-size="11" font-weight="normal" text-anchor="middle" fill="#1a1a1a" >型　 号</text>
<text x="240.8" y="1072.0" font-size="11" font-weight="bold" text-anchor="middle" fill="#1a1a1a" >⌀D1</text>
<text x="274.6" y="1072.0" font-size="11" font-weight="bold" text-anchor="middle" fill="#1a1a1a" >⌀D2</text>
<text x="308.5" y="1072.0" font-size="11" font-weight="bold" text-anchor="middle" fill="#1a1a1a" >L1</text>
<text x="342.1" y="1072.0" font-size="11" font-weight="bold" text-anchor="middle" fill="#1a1a1a" >L2</text>
<text x="375.9" y="1072.0" font-size="11" font-weight="bold" text-anchor="middle" fill="#1a1a1a" >L3</text>
<text x="409.5" y="1072.0" font-size="11" font-weight="bold" text-anchor="middle" fill="#1a1a1a" >P</text>
<text x="442.9" y="1072.0" font-size="11" font-weight="bold" text-anchor="middle" fill="#1a1a1a" >Q1</text>
<text x="476.5" y="1072.0" font-size="11" font-weight="bold" text-anchor="middle" fill="#1a1a1a" >Q2</text>
<text x="510.2" y="1072.0" font-size="11" font-weight="bold" text-anchor="middle" fill="#1a1a1a" >M1</text>
<text x="544.0" y="1072.0" font-size="11" font-weight="bold" text-anchor="middle" fill="#1a1a1a" >M2</text>
<text x="588.0" y="1065.0" font-size="11" font-weight="normal" text-anchor="middle" fill="#1a1a1a" >B口</text>
<text x="588.0" y="1079.0" font-size="11" font-weight="normal" text-anchor="middle" fill="#1a1a1a" >最小内径</text>
<text x="631.8" y="1065.0" font-size="11" font-weight="normal" text-anchor="middle" fill="#1a1a1a" >质量</text>
<text x="631.8" y="1079.0" font-size="11" font-weight="normal" text-anchor="middle" fill="#1a1a1a" >g</text>
<text x="47.9" y="1102.4" font-size="11" font-weight="bold" text-anchor="middle" fill="#1a1a1a" >4</text>
<text x="240.8" y="1102.4" font-size="11" font-weight="normal" text-anchor="middle" fill="#1a1a1a" >10.4</text>
<text x="409.5" y="1102.4" font-size="11" font-weight="normal" text-anchor="middle" fill="#1a1a1a" >10.4</text>
<text x="442.9" y="1102.4" font-size="11" font-weight="normal" text-anchor="middle" fill="#1a1a1a" >38.2</text>
<text x="544.0" y="1102.4" font-size="11" font-weight="normal" text-anchor="middle" fill="#1a1a1a" >16</text>
<text x="47.9" y="1131.8" font-size="11" font-weight="bold" text-anchor="middle" fill="#1a1a1a" >6</text>
<text x="240.8" y="1131.8" font-size="11" font-weight="normal" text-anchor="middle" fill="#1a1a1a" >12.8</text>
<text x="409.5" y="1131.8" font-size="11" font-weight="normal" text-anchor="middle" fill="#1a1a1a" >12.8</text>
<text x="442.9" y="1131.8" font-size="11" font-weight="normal" text-anchor="middle" fill="#1a1a1a" >45.4</text>
<text x="544.0" y="1131.8" font-size="11" font-weight="normal" text-anchor="middle" fill="#1a1a1a" >17</text>
<text x="47.9" y="1154.0" font-size="11" font-weight="bold" text-anchor="middle" fill="#1a1a1a" >8</text>
<text x="240.8" y="1154.0" font-size="11" font-weight="normal" text-anchor="middle" fill="#1a1a1a" >15.2</text>
<text x="409.5" y="1154.0" font-size="11" font-weight="normal" text-anchor="middle" fill="#1a1a1a" >15.2</text>
<text x="442.9" y="1154.0" font-size="11" font-weight="normal" text-anchor="middle" fill="#1a1a1a" >52.6</text>
<text x="544.0" y="1154.0" font-size="11" font-weight="normal" text-anchor="middle" fill="#1a1a1a" >18.5</text>
<text x="98.3" y="1094.8" font-size="11" font-weight="bold" text-anchor="middle" fill="#1a1a1a" >6</text>
<text x="135.4" y="1094.8" font-size="11" font-weight="bold" text-anchor="start" fill="#1a1a1a" >KM13-04-06-3</text>
<text x="274.6" y="1094.8" font-size="11" font-weight="normal" text-anchor="middle" fill="#1a1a1a" >12.8</text>
<text x="297.6" y="1094.8" font-size="11" font-weight="normal" text-anchor="start" fill="#1a1a1a" >60</text>
<text x="331.3" y="1094.8" font-size="11" font-weight="normal" text-anchor="start" fill="#1a1a1a" >18</text>
<text x="365.0" y="1094.8" font-size="11" font-weight="normal" text-anchor="start" fill="#1a1a1a" >13</text>
<text x="487.3" y="1094.8" font-size="11" font-weight="normal" text-anchor="end" fill="#1a1a1a" >9.9</text>
<text x="500.3" y="1094.8" font-size="11" font-weight="normal" text-anchor="start" fill="#1a1a1a" >17</text>
<text x="588.0" y="1094.8" font-size="11" font-weight="normal" text-anchor="middle" fill="#1a1a1a" >4.5</text>
<text x="631.8" y="1094.8" font-size="11" font-weight="normal" text-anchor="middle" fill="#1a1a1a" >11</text>
<text x="98.3" y="1109.7" font-size="11" font-weight="bold" text-anchor="middle" fill="#1a1a1a" >8</text>
<text x="135.4" y="1109.7" font-size="11" font-weight="bold" text-anchor="start" fill="#1a1a1a" >KM13-04-08-3</text>
<text x="274.6" y="1109.7" font-size="11" font-weight="normal" text-anchor="middle" fill="#1a1a1a" >15.2</text>
<text x="297.6" y="1109.7" font-size="11" font-weight="normal" text-anchor="start" fill="#1a1a1a" >63.5</text>
<text x="331.3" y="1109.7" font-size="11" font-weight="normal" text-anchor="start" fill="#1a1a1a" >19</text>
<text x="365.0" y="1109.7" font-size="11" font-weight="normal" text-anchor="start" fill="#1a1a1a" >15.5</text>
<text x="487.3" y="1109.7" font-size="11" font-weight="normal" text-anchor="end" fill="#1a1a1a" >11.1</text>
<text x="500.3" y="1109.7" font-size="11" font-weight="normal" text-anchor="start" fill="#1a1a1a" >18.5</text>
<text x="588.0" y="1109.7" font-size="11" font-weight="normal" text-anchor="middle" fill="#1a1a1a" >6</text>
<text x="631.8" y="1109.7" font-size="11" font-weight="normal" text-anchor="middle" fill="#1a1a1a" >14</text>
<text x="98.3" y="1124.5" font-size="11" font-weight="bold" text-anchor="middle" fill="#1a1a1a" >8</text>
<text x="135.4" y="1124.5" font-size="11" font-weight="bold" text-anchor="start" fill="#1a1a1a" >KM13-06-08-3</text>
<text x="274.6" y="1124.5" font-size="11" font-weight="normal" text-anchor="middle" fill="#1a1a1a" >15.2</text>
<text x="297.6" y="1124.5" font-size="11" font-weight="normal" text-anchor="start" fill="#1a1a1a" >70.5</text>
<text x="331.3" y="1124.5" font-size="11" font-weight="normal" text-anchor="start" fill="#1a1a1a" >20</text>
<text x="365.0" y="1124.5" font-size="11" font-weight="normal" text-anchor="start" fill="#1a1a1a" >15.5</text>
<text x="487.3" y="1124.5" font-size="11" font-weight="normal" text-anchor="end" fill="#1a1a1a" >11.1</text>
<text x="500.3" y="1124.5" font-size="11" font-weight="normal" text-anchor="start" fill="#1a1a1a" >18.5</text>
<text x="588.0" y="1124.5" font-size="11" font-weight="normal" text-anchor="middle" fill="#1a1a1a" >6</text>
<text x="631.8" y="1124.5" font-size="11" font-weight="normal" text-anchor="middle" fill="#1a1a1a" >16</text>
<text x="98.3" y="1139.0" font-size="11" font-weight="bold" text-anchor="middle" fill="#1a1a1a" >10</text>
<text x="135.4" y="1139.0" font-size="11" font-weight="bold" text-anchor="start" fill="#1a1a1a" >KM13-06-10-3</text>
<text x="274.6" y="1139.0" font-size="11" font-weight="normal" text-anchor="middle" fill="#1a1a1a" >18.5</text>
<text x="297.6" y="1139.0" font-size="11" font-weight="normal" text-anchor="start" fill="#1a1a1a" >74.5</text>
<text x="331.3" y="1139.0" font-size="11" font-weight="normal" text-anchor="start" fill="#1a1a1a" >21</text>
<text x="365.0" y="1139.0" font-size="11" font-weight="normal" text-anchor="start" fill="#1a1a1a" >19</text>
<text x="487.3" y="1139.0" font-size="11" font-weight="normal" text-anchor="end" fill="#1a1a1a" >12.8</text>
<text x="500.3" y="1139.0" font-size="11" font-weight="normal" text-anchor="start" fill="#1a1a1a" >21</text>
<text x="588.0" y="1139.0" font-size="11" font-weight="normal" text-anchor="middle" fill="#1a1a1a" >7.5</text>
<text x="631.8" y="1139.0" font-size="11" font-weight="normal" text-anchor="middle" fill="#1a1a1a" >22</text>
<text x="98.3" y="1153.9" font-size="11" font-weight="bold" text-anchor="middle" fill="#1a1a1a" >10</text>
<text x="135.4" y="1153.9" font-size="11" font-weight="bold" text-anchor="start" fill="#1a1a1a" >KM13-08-10-3</text>
<text x="274.6" y="1153.9" font-size="11" font-weight="normal" text-anchor="middle" fill="#1a1a1a" >18.5</text>
<text x="297.6" y="1153.9" font-size="11" font-weight="normal" text-anchor="start" fill="#1a1a1a" >81.5</text>
<text x="331.3" y="1153.9" font-size="11" font-weight="normal" text-anchor="start" fill="#1a1a1a" >22.5</text>
<text x="365.0" y="1153.9" font-size="11" font-weight="normal" text-anchor="start" fill="#1a1a1a" >19</text>
<text x="487.3" y="1153.9" font-size="11" font-weight="normal" text-anchor="end" fill="#1a1a1a" >12.8</text>
<text x="500.3" y="1153.9" font-size="11" font-weight="normal" text-anchor="start" fill="#1a1a1a" >21</text>
<text x="588.0" y="1153.9" font-size="11" font-weight="normal" text-anchor="middle" fill="#1a1a1a" >7.5</text>
<text x="631.8" y="1153.9" font-size="11" font-weight="normal" text-anchor="middle" fill="#1a1a1a" >26</text>
<rect x="215.0" y="185.5" width="34.7" height="29.6" rx="1.5" fill="#fff" stroke="#111" stroke-width="1.50"/>
<rect x="249.7" y="193.0" width="4.1" height="14.0" rx="0" fill="#fff" stroke="#111" stroke-width="1.25"/>
<rect x="253.8" y="187.0" width="4.6" height="27.0" rx="1.5" fill="#fff" stroke="#111" stroke-width="1.50"/>
<rect x="188.8" y="212.0" width="29.6" height="10.0" rx="0" fill="#fff" stroke="#111" stroke-width="1.25"/>
<rect x="176.5" y="221.0" width="47.3" height="26.2" rx="1" fill="#fff" stroke="#111" stroke-width="1.50"/>
<rect x="195.0" y="247.0" width="15.3" height="3.5" rx="0" fill="#fff" stroke="#111" stroke-width="1.25"/>
<rect x="189.4" y="250.0" width="26.0" height="5.0" rx="2" fill="#fff" stroke="#111" stroke-width="1.50"/>
<circle cx="203.0" cy="200.0" r="21.2" fill="#fff" stroke="#111" stroke-width="1.62"/>
<circle cx="203.0" cy="200.0" r="18.7" fill="#fff" stroke="#111" stroke-width="1.25"/>
<circle cx="203.0" cy="200.0" r="13.0" fill="#fff" stroke="#111" stroke-width="1.62"/>
<rect x="193.7" y="190.4" width="20.6" height="19.8" rx="2" fill="none" stroke="#888" stroke-width="0.9"/>
<line x1="203.0" y1="166.0" x2="203.0" y2="283.0" stroke="#222" stroke-width="1.04" stroke-dasharray="12 2 2 2"/>
<line x1="170.0" y1="200.0" x2="258.0" y2="200.0" stroke="#222" stroke-width="1.04" stroke-dasharray="12 2 2 2"/>
<line x1="258.0" y1="200.4" x2="288.0" y2="200.4" stroke="#111" stroke-width="1.17"/>
<line x1="166.0" y1="233.6" x2="232.0" y2="233.6" stroke="#222" stroke-width="1.04" stroke-dasharray="12 2 2 2"/>
<line x1="211.0" y1="178.8" x2="309.0" y2="178.8" stroke="#111" stroke-width="1.30"/>
<line x1="217.0" y1="254.4" x2="308.5" y2="254.4" stroke="#111" stroke-width="1.30"/>
<line x1="304.6" y1="178.8" x2="304.6" y2="254.4" stroke="#111" stroke-width="1.17"/>
<path d="M304.6,178.8 L306.5,185.8 L302.7,185.8 Z" fill="#111"/>
<path d="M304.6,254.4 L302.7,247.4 L306.5,247.4 Z" fill="#111"/>
<line x1="285.0" y1="200.4" x2="285.0" y2="254.4" stroke="#111" stroke-width="1.17"/>
<path d="M285.0,200.4 L286.9,207.4 L283.1,207.4 Z" fill="#111"/>
<path d="M285.0,254.4 L283.1,247.4 L286.9,247.4 Z" fill="#111"/>
<line x1="176.1" y1="249.0" x2="176.1" y2="316.0" stroke="#111" stroke-width="1.17"/>
<line x1="224.2" y1="249.0" x2="224.2" y2="301.0" stroke="#111" stroke-width="1.17"/>
<line x1="258.3" y1="216.0" x2="258.3" y2="314.5" stroke="#111" stroke-width="1.17"/>
<line x1="203.0" y1="250.0" x2="203.0" y2="283.0" stroke="#111" stroke-width="1.17"/>
<line x1="176.1" y1="278.9" x2="203.0" y2="278.9" stroke="#111" stroke-width="1.17"/>
<path d="M176.1,278.9 L183.1,277.0 L183.1,280.8 Z" fill="#111"/>
<path d="M203.0,278.9 L196.0,280.8 L196.0,277.0 Z" fill="#111"/>
<line x1="176.1" y1="296.0" x2="224.2" y2="296.0" stroke="#111" stroke-width="1.17"/>
<path d="M176.1,296.0 L183.1,294.1 L183.1,297.9 Z" fill="#111"/>
<path d="M224.2,296.0 L217.2,297.9 L217.2,294.1 Z" fill="#111"/>
<line x1="176.1" y1="311.6" x2="258.3" y2="311.6" stroke="#111" stroke-width="1.17"/>
<path d="M176.1,311.6 L183.1,309.7 L183.1,313.5 Z" fill="#111"/>
<path d="M258.3,311.6 L251.3,313.5 L251.3,309.7 Z" fill="#111"/>
<text x="189.0" y="276.3" font-size="10.5" font-weight="normal" text-anchor="middle" fill="#1a1a1a" >L2</text>
<text x="199.7" y="293.5" font-size="10.5" font-weight="normal" text-anchor="middle" fill="#1a1a1a" >L3</text>
<text x="216.0" y="308.7" font-size="10.5" font-weight="normal" text-anchor="middle" fill="#1a1a1a" >L4</text>
<text x="0" y="0" font-size="10.5" text-anchor="middle" fill="#1a1a1a" transform="translate(278.2 226.0) rotate(-90) translate(0 3.8)">L5</text>
<text x="0" y="0" font-size="10.5" text-anchor="middle" fill="#1a1a1a" transform="translate(297.5 218.0) rotate(-90) translate(0 3.8)">L6</text>
<rect x="388.4" y="183.3" width="5.3" height="34.5" rx="1.5" fill="#fff" stroke="#111" stroke-width="1.50"/>
<rect x="393.7" y="186.5" width="4.4" height="28.5" rx="0" fill="#fff" stroke="#111" stroke-width="1.25"/>
<rect x="398.0" y="179.5" width="36.6" height="43.1" rx="3" fill="#fff" stroke="#111" stroke-width="1.50"/>
<line x1="405.0" y1="187.0" x2="432.0" y2="187.0" stroke="#3a3a3a" stroke-width="1.17" stroke-dasharray="3 2"/>
<line x1="405.0" y1="214.0" x2="432.0" y2="214.0" stroke="#3a3a3a" stroke-width="1.17" stroke-dasharray="3 2"/>
<rect x="530.8" y="178.5" width="37.0" height="42.7" rx="3" fill="#fff" stroke="#111" stroke-width="1.50"/>
<line x1="534.0" y1="186.0" x2="566.0" y2="186.0" stroke="#3a3a3a" stroke-width="1.17" stroke-dasharray="3 2"/>
<line x1="534.0" y1="214.0" x2="566.0" y2="214.0" stroke="#3a3a3a" stroke-width="1.17" stroke-dasharray="3 2"/>
<rect x="567.8" y="186.0" width="2.9" height="28.0" rx="0" fill="#fff" stroke="#111" stroke-width="1.25"/>
<rect x="570.7" y="182.7" width="5.1" height="35.6" rx="1.5" fill="#fff" stroke="#111" stroke-width="1.50"/>
<path d="M434.6,214 L434.6,184.6 L530.8,184.6 L530.8,214" fill="#fff" stroke="#111" stroke-width="1.38"/>
<rect x="435.4" y="185.4" width="94.6" height="30" fill="#fff"/>
<path d="M438.5,206 L438.5,246.3 L467.5,246.3 L467.5,206" fill="#fff" stroke="#111" stroke-width="1.38"/>
<line x1="446.0" y1="216.0" x2="446.0" y2="246.0" stroke="#3a3a3a" stroke-width="1.17" stroke-dasharray="3 2"/>
<line x1="460.0" y1="216.0" x2="460.0" y2="246.0" stroke="#3a3a3a" stroke-width="1.17" stroke-dasharray="3 2"/>
<rect x="443.0" y="246.3" width="20.0" height="3.9" rx="0" fill="#fff" stroke="#111" stroke-width="1.25"/>
<rect x="439.5" y="250.2" width="27.0" height="4.8" rx="1.5" fill="#fff" stroke="#111" stroke-width="1.50"/>
<path d="M468.8,206 L468.8,246.3 L497.8,246.3 L497.8,206" fill="#fff" stroke="#111" stroke-width="1.38"/>
<line x1="476.3" y1="216.0" x2="476.3" y2="246.0" stroke="#3a3a3a" stroke-width="1.17" stroke-dasharray="3 2"/>
<line x1="490.3" y1="216.0" x2="490.3" y2="246.0" stroke="#3a3a3a" stroke-width="1.17" stroke-dasharray="3 2"/>
<rect x="473.3" y="246.3" width="20.0" height="3.9" rx="0" fill="#fff" stroke="#111" stroke-width="1.25"/>
<rect x="469.8" y="250.2" width="27.0" height="4.8" rx="1.5" fill="#fff" stroke="#111" stroke-width="1.50"/>
<path d="M498.1,206 L498.1,246.3 L527.1,246.3 L527.1,206" fill="#fff" stroke="#111" stroke-width="1.38"/>
<line x1="505.6" y1="216.0" x2="505.6" y2="246.0" stroke="#3a3a3a" stroke-width="1.17" stroke-dasharray="3 2"/>
<line x1="519.6" y1="216.0" x2="519.6" y2="246.0" stroke="#3a3a3a" stroke-width="1.17" stroke-dasharray="3 2"/>
<rect x="502.6" y="246.3" width="20.0" height="3.9" rx="0" fill="#fff" stroke="#111" stroke-width="1.25"/>
<rect x="499.1" y="250.2" width="27.0" height="4.8" rx="1.5" fill="#fff" stroke="#111" stroke-width="1.50"/>
<circle cx="453.0" cy="200.8" r="14.3" fill="#fff" stroke="#111" stroke-width="1.50"/>
<circle cx="453.0" cy="200.8" r="12.8" fill="#fff" stroke="#111" stroke-width="1.12"/>
<circle cx="453.0" cy="200.8" r="6.5" fill="#fff" stroke="#111" stroke-width="1.50"/>
<line x1="453.0" y1="177.0" x2="453.0" y2="266.0" stroke="#222" stroke-width="1.04" stroke-dasharray="12 2 2 2"/>
<circle cx="483.3" cy="200.8" r="14.3" fill="#fff" stroke="#111" stroke-width="1.50"/>
<circle cx="483.3" cy="200.8" r="12.8" fill="#fff" stroke="#111" stroke-width="1.12"/>
<circle cx="483.3" cy="200.8" r="6.5" fill="#fff" stroke="#111" stroke-width="1.50"/>
<line x1="483.3" y1="177.0" x2="483.3" y2="266.0" stroke="#222" stroke-width="1.04" stroke-dasharray="12 2 2 2"/>
<circle cx="512.6" cy="200.8" r="14.3" fill="#fff" stroke="#111" stroke-width="1.50"/>
<circle cx="512.6" cy="200.8" r="12.8" fill="#fff" stroke="#111" stroke-width="1.12"/>
<circle cx="512.6" cy="200.8" r="6.5" fill="#fff" stroke="#111" stroke-width="1.50"/>
<line x1="512.6" y1="177.0" x2="512.6" y2="266.0" stroke="#222" stroke-width="1.04" stroke-dasharray="12 2 2 2"/>
<circle cx="425.0" cy="234.0" r="13.5" fill="#fff" stroke="#111" stroke-width="1.50"/>
<circle cx="425.0" cy="234.0" r="7.6" fill="#fff" stroke="#111" stroke-width="1.50"/>
<circle cx="539.7" cy="233.5" r="12.7" fill="#fff" stroke="#111" stroke-width="1.50"/>
<circle cx="539.7" cy="233.5" r="7.6" fill="#fff" stroke="#111" stroke-width="1.50"/>
<line x1="410.0" y1="234.0" x2="442.0" y2="234.0" stroke="#222" stroke-width="1.04" stroke-dasharray="12 2 2 2"/>
<line x1="524.0" y1="233.5" x2="556.0" y2="233.5" stroke="#222" stroke-width="1.04" stroke-dasharray="12 2 2 2"/>
<line x1="425.0" y1="219.0" x2="425.0" y2="249.0" stroke="#222" stroke-width="1.04" stroke-dasharray="12 2 2 2"/>
<line x1="539.7" y1="219.0" x2="539.7" y2="249.0" stroke="#222" stroke-width="1.04" stroke-dasharray="12 2 2 2"/>
<line x1="378.0" y1="200.8" x2="621.0" y2="200.8" stroke="#222" stroke-width="1.04" stroke-dasharray="12 2 2 2"/>
<line x1="389.0" y1="156.0" x2="389.0" y2="313.0" stroke="#111" stroke-width="1.17"/>
<line x1="442.5" y1="156.0" x2="442.5" y2="184.0" stroke="#111" stroke-width="1.17"/>
<line x1="389.0" y1="160.0" x2="442.5" y2="160.0" stroke="#111" stroke-width="1.17"/>
<path d="M389.0,160.0 L396.0,158.1 L396.0,161.9 Z" fill="#111"/>
<path d="M442.5,160.0 L435.5,161.9 L435.5,158.1 Z" fill="#111"/>
<text x="415.5" y="157.3" font-size="10.5" font-weight="normal" text-anchor="middle" fill="#1a1a1a" >MB</text>
<line x1="366.0" y1="211.2" x2="440.0" y2="211.2" stroke="#111" stroke-width="1.17"/>
<line x1="366.0" y1="254.3" x2="435.0" y2="254.3" stroke="#111" stroke-width="1.17"/>
<line x1="370.0" y1="211.2" x2="370.0" y2="254.3" stroke="#111" stroke-width="1.17"/>
<path d="M370.0,211.2 L371.9,218.2 L368.1,218.2 Z" fill="#111"/>
<path d="M370.0,254.3 L368.1,247.3 L371.9,247.3 Z" fill="#111"/>
<text x="0" y="0" font-size="10.5" text-anchor="middle" fill="#1a1a1a" transform="translate(363.7 231.8) rotate(-90) translate(0 3.8)">MA</text>
<line x1="521.0" y1="233.5" x2="621.0" y2="233.5" stroke="#111" stroke-width="1.17"/>
<line x1="575.0" y1="200.8" x2="621.0" y2="200.8" stroke="#111" stroke-width="1.17"/>
<line x1="616.3" y1="200.8" x2="616.3" y2="233.5" stroke="#111" stroke-width="1.17"/>
<path d="M616.3,200.8 L618.2,207.8 L614.4,207.8 Z" fill="#111"/>
<path d="M616.3,233.5 L614.4,226.5 L618.2,226.5 Z" fill="#111"/>
<text x="0" y="0" font-size="10.5" text-anchor="middle" fill="#1a1a1a" transform="translate(608.7 216.5) rotate(-90) translate(0 3.8)">Q2</text>
<line x1="575.8" y1="219.0" x2="575.8" y2="312.0" stroke="#111" stroke-width="1.17"/>
<line x1="425.7" y1="247.0" x2="425.7" y2="292.4" stroke="#111" stroke-width="1.17"/>
<line x1="540.3" y1="247.0" x2="540.3" y2="294.3" stroke="#111" stroke-width="1.17"/>
<line x1="453.7" y1="256.0" x2="453.7" y2="279.0" stroke="#111" stroke-width="1.17"/>
<line x1="483.1" y1="256.0" x2="483.1" y2="279.0" stroke="#111" stroke-width="1.17"/>
<line x1="453.7" y1="276.1" x2="483.1" y2="276.1" stroke="#111" stroke-width="1.17"/>
<path d="M453.7,276.1 L460.7,274.2 L460.7,278.0 Z" fill="#111"/>
<path d="M483.1,276.1 L476.1,278.0 L476.1,274.2 Z" fill="#111"/>
<line x1="425.7" y1="289.2" x2="540.6" y2="289.2" stroke="#111" stroke-width="1.17"/>
<path d="M425.7,289.2 L432.7,287.3 L432.7,291.1 Z" fill="#111"/>
<path d="M540.6,289.2 L533.6,291.1 L533.6,287.3 Z" fill="#111"/>
<line x1="389.4" y1="308.7" x2="575.3" y2="308.7" stroke="#111" stroke-width="1.17"/>
<path d="M389.4,308.7 L396.4,306.8 L396.4,310.6 Z" fill="#111"/>
<path d="M575.3,308.7 L568.3,310.6 L568.3,306.8 Z" fill="#111"/>
<text x="469.7" y="273.6" font-size="10.5" font-weight="normal" text-anchor="middle" fill="#1a1a1a" >P</text>
<text x="482.0" y="287.0" font-size="10.5" font-weight="normal" text-anchor="middle" fill="#1a1a1a" >Q1</text>
<text x="480.5" y="306.0" font-size="10.5" font-weight="normal" text-anchor="middle" fill="#1a1a1a" >L1</text>
<line x1="252.0" y1="159.6" x2="362.5" y2="159.6" stroke="#6a6a6a" stroke-width="1.04"/>
<line x1="362.5" y1="159.6" x2="388.8" y2="199.0" stroke="#111" stroke-width="1.17"/>
<path d="M388.8,199.0 L383.3,194.2 L386.5,192.1 Z" fill="#111"/>
<text x="252.6" y="155.6" font-size="10.3" font-weight="normal" text-anchor="start" fill="#1a1a1a" letter-spacing="0.62">2×FB适合管子外径</text>
<line x1="296.0" y1="330.8" x2="410.6" y2="330.8" stroke="#6a6a6a" stroke-width="1.04"/>
<line x1="410.6" y1="330.8" x2="452.0" y2="256.0" stroke="#111" stroke-width="1.17"/>
<path d="M452.0,256.0 L450.3,263.0 L446.9,261.2 Z" fill="#111"/>
<text x="296.2" y="326.7" font-size="10.5" font-weight="normal" text-anchor="start" fill="#1a1a1a" letter-spacing="0.33">N×FA适合管子外径</text>
<line x1="539.7" y1="233.5" x2="567.8" y2="250.6" stroke="#111" stroke-width="1.17"/>
<text x="0" y="0" font-size="10.5" text-anchor="middle" fill="#1a1a1a" transform="translate(566.0 241.5) rotate(31) translate(0 3.8)">ø9</text>
<line x1="545.0" y1="241.0" x2="569.7" y2="283.4" stroke="#111" stroke-width="1.17"/>
<line x1="569.7" y1="283.4" x2="642.7" y2="283.4" stroke="#6a6a6a" stroke-width="1.04"/>
<text x="579.6" y="280.6" font-size="10.8" font-weight="normal" text-anchor="start" fill="#1a1a1a" letter-spacing="0.4">2×4.5安装孔</text>
<rect x="240.0" y="546.2" width="27.0" height="29.6" rx="1.5" fill="#fff" stroke="#111" stroke-width="1.50"/>
<rect x="267.0" y="552.0" width="4.4" height="17.0" rx="0" fill="#fff" stroke="#111" stroke-width="1.25"/>
<rect x="271.4" y="548.0" width="4.8" height="25.2" rx="1.5" fill="#fff" stroke="#111" stroke-width="1.50"/>
<rect x="194.0" y="580.3" width="48.5" height="25.1" rx="1" fill="#fff" stroke="#111" stroke-width="1.50"/>
<rect x="213.8" y="605.0" width="15.1" height="3.6" rx="0" fill="#fff" stroke="#111" stroke-width="1.25"/>
<rect x="208.5" y="608.6" width="26.2" height="4.4" rx="2" fill="#fff" stroke="#111" stroke-width="1.50"/>
<path d="M209.4,532.8 L233.3,532.8 Q238,533 240,537 L247.5,555 Q249,559.3 247.5,563.6 L240,580 Q238,583.4 233.3,583.4 L209.4,583.4 Q205,583.4 203,580 L195.7,563.6 Q194,559.3 195.7,555 L203,537 Q205,533 209.4,532.8 Z" fill="#fff" stroke="#111" stroke-width="1.50"/>
<circle cx="221.8" cy="559.3" r="24.8" fill="none" stroke="#111" stroke-width="1.12"/>
<circle cx="221.8" cy="559.3" r="18.6" fill="#fff" stroke="#111" stroke-width="1.50"/>
<circle cx="221.8" cy="559.3" r="14.7" fill="#fff" stroke="#111" stroke-width="1.50"/>
<circle cx="221.8" cy="559.3" r="8.9" fill="#fff" stroke="#111" stroke-width="1.50"/>
<line x1="221.8" y1="528.0" x2="221.8" y2="641.0" stroke="#222" stroke-width="1.04" stroke-dasharray="12 2 2 2"/>
<line x1="188.0" y1="559.3" x2="276.0" y2="559.3" stroke="#222" stroke-width="1.04" stroke-dasharray="12 2 2 2"/>
<line x1="276.0" y1="560.1" x2="299.3" y2="560.1" stroke="#111" stroke-width="1.17"/>
<line x1="185.0" y1="592.7" x2="250.0" y2="592.7" stroke="#222" stroke-width="1.04" stroke-dasharray="12 2 2 2"/>
<line x1="163.0" y1="532.8" x2="205.0" y2="532.8" stroke="#111" stroke-width="1.17"/>
<line x1="163.0" y1="583.4" x2="200.0" y2="583.4" stroke="#111" stroke-width="1.17"/>
<line x1="166.0" y1="532.8" x2="166.0" y2="583.4" stroke="#111" stroke-width="1.17"/>
<path d="M166.0,532.8 L167.9,539.8 L164.1,539.8 Z" fill="#111"/>
<path d="M166.0,583.4 L164.1,576.4 L167.9,576.4 Z" fill="#111"/>
<text x="0" y="0" font-size="10.5" text-anchor="middle" fill="#1a1a1a" transform="translate(159.7 557.2) rotate(-90) translate(0 3.8)">H</text>
<line x1="232.0" y1="533.4" x2="317.5" y2="533.4" stroke="#111" stroke-width="1.30"/>
<line x1="236.0" y1="613.7" x2="317.6" y2="613.7" stroke="#111" stroke-width="1.30"/>
<line x1="312.2" y1="533.4" x2="312.2" y2="613.7" stroke="#111" stroke-width="1.17"/>
<path d="M312.2,533.4 L314.1,540.4 L310.3,540.4 Z" fill="#111"/>
<path d="M312.2,613.7 L310.3,606.7 L314.1,606.7 Z" fill="#111"/>
<line x1="295.1" y1="560.1" x2="295.1" y2="613.7" stroke="#111" stroke-width="1.17"/>
<path d="M295.1,560.1 L297.0,567.1 L293.2,567.1 Z" fill="#111"/>
<path d="M295.1,613.7 L293.2,606.7 L297.0,606.7 Z" fill="#111"/>
<text x="0" y="0" font-size="10.5" text-anchor="middle" fill="#1a1a1a" transform="translate(289.0 587.2) rotate(-90) translate(0 3.8)">L5</text>
<text x="0" y="0" font-size="10.5" text-anchor="middle" fill="#1a1a1a" transform="translate(306.7 572.4) rotate(-90) translate(0 3.8)">L6</text>
<line x1="194.2" y1="605.0" x2="194.2" y2="680.7" stroke="#111" stroke-width="1.17"/>
<line x1="242.7" y1="613.0" x2="242.7" y2="661.7" stroke="#111" stroke-width="1.17"/>
<line x1="275.0" y1="575.0" x2="275.0" y2="680.7" stroke="#111" stroke-width="1.17"/>
<line x1="221.3" y1="613.0" x2="221.3" y2="641.0" stroke="#111" stroke-width="1.17"/>
<line x1="194.2" y1="635.7" x2="220.8" y2="635.7" stroke="#111" stroke-width="1.17"/>
<path d="M194.2,635.7 L201.2,633.8 L201.2,637.6 Z" fill="#111"/>
<path d="M220.8,635.7 L213.8,637.6 L213.8,633.8 Z" fill="#111"/>
<line x1="194.2" y1="659.4" x2="242.7" y2="659.4" stroke="#111" stroke-width="1.17"/>
<path d="M194.2,659.4 L201.2,657.5 L201.2,661.3 Z" fill="#111"/>
<path d="M242.7,659.4 L235.7,661.3 L235.7,657.5 Z" fill="#111"/>
<line x1="194.2" y1="676.0" x2="275.0" y2="676.0" stroke="#111" stroke-width="1.17"/>
<path d="M194.2,676.0 L201.2,674.1 L201.2,677.9 Z" fill="#111"/>
<path d="M275.0,676.0 L268.0,677.9 L268.0,674.1 Z" fill="#111"/>
<text x="208.0" y="633.8" font-size="10.5" font-weight="normal" text-anchor="middle" fill="#1a1a1a" >L2</text>
<text x="219.7" y="656.0" font-size="10.5" font-weight="normal" text-anchor="middle" fill="#1a1a1a" >L3</text>
<text x="235.4" y="674.0" font-size="10.5" font-weight="normal" text-anchor="middle" fill="#1a1a1a" >L4</text>
<rect x="409.9" y="539.2" width="36.7" height="41.8" rx="0" fill="#fff" stroke="#111" stroke-width="1.50"/>
<rect x="400.5" y="535.9" width="9.4" height="47.6" rx="0" fill="#fff" stroke="#111" stroke-width="1.50"/>
<path d="M373.6,532.3 L397.5,532.3 L400.5,535.3 L400.5,582.5 L397.5,585.5 L373.6,585.5 L370.6,582.5 L370.6,535.3 Z" fill="#fff" stroke="#111" stroke-width="1.50"/>
<line x1="374.6" y1="540.3" x2="396.5" y2="540.3" stroke="#3a3a3a" stroke-width="1.17" stroke-dasharray="3 2"/>
<line x1="374.6" y1="577.5" x2="396.5" y2="577.5" stroke="#3a3a3a" stroke-width="1.17" stroke-dasharray="3 2"/>
<path d="M371.6,542.3 Q374.6,546.3 378.6,546.3 L392.5,546.3 Q396.5,546.3 399.5,542.3" fill="none" stroke="#111" stroke-width="1.12"/>
<path d="M371.6,575.5 Q374.6,571.5 378.6,571.5 L392.5,571.5 Q396.5,571.5 399.5,575.5" fill="none" stroke="#111" stroke-width="1.12"/>
<line x1="374.6" y1="547.3" x2="374.6" y2="570.5" stroke="#777" stroke-width="0.91" stroke-dasharray="2 2"/>
<line x1="396.5" y1="547.3" x2="396.5" y2="570.5" stroke="#777" stroke-width="0.91" stroke-dasharray="2 2"/>
<rect x="541.8" y="539.2" width="37.9" height="44.3" rx="0" fill="#fff" stroke="#111" stroke-width="1.50"/>
<rect x="579.7" y="537.9" width="11.4" height="46.8" rx="0" fill="#fff" stroke="#111" stroke-width="1.50"/>
<path d="M594,535.4 L616.5,535.4 L619.5,538.4 L619.5,585.5 L616.5,588.5 L594,588.5 L591,585.5 L591,538.4 Z" fill="#fff" stroke="#111" stroke-width="1.50"/>
<line x1="595.0" y1="543.4" x2="615.5" y2="543.4" stroke="#3a3a3a" stroke-width="1.17" stroke-dasharray="3 2"/>
<line x1="595.0" y1="580.5" x2="615.5" y2="580.5" stroke="#3a3a3a" stroke-width="1.17" stroke-dasharray="3 2"/>
<path d="M592,545.4 Q595,549.4 599,549.4 L611.5,549.4 Q615.5,549.4 618.5,545.4" fill="none" stroke="#111" stroke-width="1.12"/>
<path d="M592,578.5 Q595,574.5 599,574.5 L611.5,574.5 Q615.5,574.5 618.5,578.5" fill="none" stroke="#111" stroke-width="1.12"/>
<line x1="595.0" y1="550.4" x2="595.0" y2="573.5" stroke="#777" stroke-width="0.91" stroke-dasharray="2 2"/>
<line x1="615.5" y1="550.4" x2="615.5" y2="573.5" stroke="#777" stroke-width="0.91" stroke-dasharray="2 2"/>
<path d="M446.6,574 L446.6,544.2 L541.8,544.2 L541.8,574" fill="#fff" stroke="#111" stroke-width="1.38"/>
<rect x="447.4" y="545" width="93.6" height="30" fill="#fff"/>
<path d="M450.3,565 L450.3,604 L479.3,604 L479.3,565" fill="#fff" stroke="#111" stroke-width="1.38"/>
<line x1="457.8" y1="575.0" x2="457.8" y2="604.0" stroke="#3a3a3a" stroke-width="1.17" stroke-dasharray="3 2"/>
<line x1="471.8" y1="575.0" x2="471.8" y2="604.0" stroke="#3a3a3a" stroke-width="1.17" stroke-dasharray="3 2"/>
<rect x="457.3" y="604.0" width="15.0" height="3.8" rx="0" fill="#fff" stroke="#111" stroke-width="1.25"/>
<rect x="451.3" y="607.8" width="27.0" height="5.0" rx="1.5" fill="#fff" stroke="#111" stroke-width="1.50"/>
<path d="M480.7,565 L480.7,604 L509.7,604 L509.7,565" fill="#fff" stroke="#111" stroke-width="1.38"/>
<line x1="488.2" y1="575.0" x2="488.2" y2="604.0" stroke="#3a3a3a" stroke-width="1.17" stroke-dasharray="3 2"/>
<line x1="502.2" y1="575.0" x2="502.2" y2="604.0" stroke="#3a3a3a" stroke-width="1.17" stroke-dasharray="3 2"/>
<rect x="487.7" y="604.0" width="15.0" height="3.8" rx="0" fill="#fff" stroke="#111" stroke-width="1.25"/>
<rect x="481.7" y="607.8" width="27.0" height="5.0" rx="1.5" fill="#fff" stroke="#111" stroke-width="1.50"/>
<path d="M510.0,565 L510.0,604 L539.0,604 L539.0,565" fill="#fff" stroke="#111" stroke-width="1.38"/>
<line x1="517.5" y1="575.0" x2="517.5" y2="604.0" stroke="#3a3a3a" stroke-width="1.17" stroke-dasharray="3 2"/>
<line x1="531.5" y1="575.0" x2="531.5" y2="604.0" stroke="#3a3a3a" stroke-width="1.17" stroke-dasharray="3 2"/>
<rect x="517.0" y="604.0" width="15.0" height="3.8" rx="0" fill="#fff" stroke="#111" stroke-width="1.25"/>
<rect x="511.0" y="607.8" width="27.0" height="5.0" rx="1.5" fill="#fff" stroke="#111" stroke-width="1.50"/>
<circle cx="464.8" cy="559.4" r="14.4" fill="#fff" stroke="#111" stroke-width="1.50"/>
<circle cx="464.8" cy="559.4" r="12.9" fill="#fff" stroke="#111" stroke-width="1.12"/>
<circle cx="464.8" cy="559.4" r="6.1" fill="#fff" stroke="#111" stroke-width="1.50"/>
<line x1="464.8" y1="536.0" x2="464.8" y2="622.0" stroke="#222" stroke-width="1.04" stroke-dasharray="12 2 2 2"/>
<circle cx="495.2" cy="559.4" r="14.4" fill="#fff" stroke="#111" stroke-width="1.50"/>
<circle cx="495.2" cy="559.4" r="12.9" fill="#fff" stroke="#111" stroke-width="1.12"/>
<circle cx="495.2" cy="559.4" r="6.1" fill="#fff" stroke="#111" stroke-width="1.50"/>
<line x1="495.2" y1="536.0" x2="495.2" y2="622.0" stroke="#222" stroke-width="1.04" stroke-dasharray="12 2 2 2"/>
<circle cx="524.5" cy="559.4" r="14.4" fill="#fff" stroke="#111" stroke-width="1.50"/>
<circle cx="524.5" cy="559.4" r="12.9" fill="#fff" stroke="#111" stroke-width="1.12"/>
<circle cx="524.5" cy="559.4" r="6.1" fill="#fff" stroke="#111" stroke-width="1.50"/>
<line x1="524.5" y1="536.0" x2="524.5" y2="622.0" stroke="#222" stroke-width="1.04" stroke-dasharray="12 2 2 2"/>
<circle cx="437.7" cy="592.3" r="11.9" fill="#fff" stroke="#111" stroke-width="1.50"/>
<circle cx="437.7" cy="592.3" r="5.6" fill="#fff" stroke="#111" stroke-width="1.50"/>
<circle cx="550.6" cy="592.3" r="12.2" fill="#fff" stroke="#111" stroke-width="1.50"/>
<circle cx="550.6" cy="592.3" r="6.3" fill="#fff" stroke="#111" stroke-width="1.50"/>
<line x1="422.0" y1="592.3" x2="452.0" y2="592.3" stroke="#222" stroke-width="1.04" stroke-dasharray="12 2 2 2"/>
<line x1="536.0" y1="592.3" x2="566.0" y2="592.3" stroke="#222" stroke-width="1.04" stroke-dasharray="12 2 2 2"/>
<line x1="355.0" y1="559.4" x2="646.0" y2="559.4" stroke="#222" stroke-width="1.04" stroke-dasharray="12 2 2 2"/>
<line x1="338.0" y1="569.6" x2="470.0" y2="569.6" stroke="#111" stroke-width="1.17"/>
<line x1="338.0" y1="611.8" x2="440.0" y2="611.8" stroke="#111" stroke-width="1.17"/>
<line x1="342.8" y1="569.6" x2="342.8" y2="611.8" stroke="#111" stroke-width="1.17"/>
<path d="M342.8,569.6 L344.7,576.6 L340.9,576.6 Z" fill="#111"/>
<path d="M342.8,611.8 L340.9,604.8 L344.7,604.8 Z" fill="#111"/>
<text x="0" y="0" font-size="10.5" text-anchor="middle" fill="#1a1a1a" transform="translate(337.5 589.7) rotate(-90) translate(0 3.8)">M</text>
<line x1="560.0" y1="593.1" x2="646.3" y2="593.1" stroke="#111" stroke-width="1.17"/>
<line x1="620.0" y1="561.2" x2="646.3" y2="561.2" stroke="#111" stroke-width="1.17"/>
<line x1="641.8" y1="561.2" x2="641.8" y2="593.1" stroke="#111" stroke-width="1.17"/>
<path d="M641.8,561.2 L643.7,568.2 L639.9,568.2 Z" fill="#111"/>
<path d="M641.8,593.1 L639.9,586.1 L643.7,586.1 Z" fill="#111"/>
<text x="0" y="0" font-size="10.5" text-anchor="middle" fill="#1a1a1a" transform="translate(636.7 577.2) rotate(-90) translate(0 3.8)">Q2</text>
<line x1="370.6" y1="585.5" x2="370.6" y2="679.0" stroke="#111" stroke-width="1.17"/>
<line x1="619.0" y1="588.5" x2="619.0" y2="679.0" stroke="#111" stroke-width="1.17"/>
<line x1="438.5" y1="604.0" x2="438.5" y2="660.0" stroke="#111" stroke-width="1.17"/>
<line x1="550.6" y1="604.0" x2="550.6" y2="660.0" stroke="#111" stroke-width="1.17"/>
<line x1="464.8" y1="612.0" x2="464.8" y2="637.0" stroke="#111" stroke-width="1.17"/>
<line x1="495.2" y1="612.0" x2="495.2" y2="637.0" stroke="#111" stroke-width="1.17"/>
<line x1="464.8" y1="634.2" x2="495.2" y2="634.2" stroke="#111" stroke-width="1.17"/>
<path d="M464.8,634.2 L471.8,632.3 L471.8,636.1 Z" fill="#111"/>
<path d="M495.2,634.2 L488.2,636.1 L488.2,632.3 Z" fill="#111"/>
<line x1="438.5" y1="657.0" x2="550.6" y2="657.0" stroke="#111" stroke-width="1.17"/>
<path d="M438.5,657.0 L445.5,655.1 L445.5,658.9 Z" fill="#111"/>
<path d="M550.6,657.0 L543.6,658.9 L543.6,655.1 Z" fill="#111"/>
<line x1="370.6" y1="676.6" x2="619.0" y2="676.6" stroke="#111" stroke-width="1.17"/>
<path d="M370.6,676.6 L377.6,674.7 L377.6,678.5 Z" fill="#111"/>
<path d="M619.0,676.6 L612.0,678.5 L612.0,674.7 Z" fill="#111"/>
<text x="480.0" y="631.3" font-size="10.5" font-weight="normal" text-anchor="middle" fill="#1a1a1a" >P</text>
<text x="495.0" y="654.2" font-size="10.5" font-weight="normal" text-anchor="middle" fill="#1a1a1a" >Q1</text>
<text x="497.0" y="674.2" font-size="10.5" font-weight="normal" text-anchor="middle" fill="#1a1a1a" >L1</text>
<line x1="333.0" y1="529.0" x2="358.0" y2="529.0" stroke="#6a6a6a" stroke-width="1.04"/>
<line x1="358.0" y1="529.0" x2="382.0" y2="572.0" stroke="#111" stroke-width="1.17"/>
<path d="M382.0,572.0 L376.9,566.8 L380.2,565.0 Z" fill="#111"/>
<text x="333.5" y="526.8" font-size="11.4" font-weight="normal" text-anchor="start" fill="#1a1a1a" letter-spacing="0.8">2×T</text>
<line x1="550.6" y1="592.3" x2="581.0" y2="611.3" stroke="#111" stroke-width="1.17"/>
<text x="0" y="0" font-size="10.5" text-anchor="middle" fill="#1a1a1a" transform="translate(579.0 602.0) rotate(28) translate(0 3.8)">ø9</text>
<line x1="554.4" y1="601.2" x2="559.8" y2="643.3" stroke="#111" stroke-width="1.17"/>
<line x1="559.8" y1="643.3" x2="629.0" y2="643.3" stroke="#6a6a6a" stroke-width="1.04"/>
<text x="566.4" y="639.4" font-size="10.6" font-weight="normal" text-anchor="start" fill="#1a1a1a" letter-spacing="0.45">2×4.5安装孔</text>
<line x1="313.0" y1="694.8" x2="416.2" y2="694.8" stroke="#6a6a6a" stroke-width="1.04"/>
<line x1="416.2" y1="694.8" x2="464.0" y2="614.6" stroke="#111" stroke-width="1.17"/>
<path d="M464.0,614.6 L462.0,621.6 L458.8,619.6 Z" fill="#111"/>
<text x="313.5" y="690.4" font-size="10.3" font-weight="normal" text-anchor="start" fill="#1a1a1a" letter-spacing="0.2">N×F 适合管子外径</text>
<line x1="211.4" y1="905.0" x2="211.4" y2="943.3" stroke="#111" stroke-width="1.17"/>
<line x1="246.5" y1="905.0" x2="246.5" y2="943.3" stroke="#111" stroke-width="1.17"/>
<line x1="211.4" y1="910.0" x2="246.5" y2="910.0" stroke="#111" stroke-width="1.17"/>
<path d="M211.4,910.0 L218.4,908.1 L218.4,911.9 Z" fill="#111"/>
<path d="M246.5,910.0 L239.5,911.9 L239.5,908.1 Z" fill="#111"/>
<text x="227.8" y="906.8" font-size="10.5" font-weight="normal" text-anchor="middle" fill="#1a1a1a" >L3</text>
<rect x="215.7" y="931.3" width="26.6" height="4.4" rx="2" fill="#fff" stroke="#111" stroke-width="1.50"/>
<rect x="221.8" y="935.7" width="14.5" height="3.8" rx="0" fill="#fff" stroke="#111" stroke-width="1.25"/>
<rect x="214.8" y="939.5" width="28.5" height="3.2" rx="0" fill="#fff" stroke="#111" stroke-width="1.25"/>
<rect x="211.4" y="943.3" width="35.6" height="20.9" rx="1" fill="#fff" stroke="#111" stroke-width="1.50"/>
<circle cx="229.4" cy="980.6" r="17.7" fill="#fff" stroke="#111" stroke-width="1.50"/>
<circle cx="229.4" cy="980.6" r="16.2" fill="#fff" stroke="#111" stroke-width="1.12"/>
<circle cx="229.4" cy="980.6" r="8.2" fill="#fff" stroke="#111" stroke-width="1.50"/>
<line x1="229.4" y1="928.7" x2="229.4" y2="1000.0" stroke="#222" stroke-width="1.04" stroke-dasharray="12 2 2 2"/>
<line x1="209.0" y1="980.6" x2="249.4" y2="980.6" stroke="#222" stroke-width="1.04" stroke-dasharray="12 2 2 2"/>
<rect x="385.0" y="964.3" width="145.7" height="35.9" rx="0" fill="#fff" stroke="#111" stroke-width="1.50"/>
<line x1="388.0" y1="972.0" x2="416.0" y2="972.0" stroke="#3a3a3a" stroke-width="1.17" stroke-dasharray="3 2"/>
<line x1="388.0" y1="991.0" x2="416.0" y2="991.0" stroke="#3a3a3a" stroke-width="1.17" stroke-dasharray="3 2"/>
<line x1="500.0" y1="975.0" x2="528.0" y2="975.0" stroke="#3a3a3a" stroke-width="1.17" stroke-dasharray="3 2"/>
<line x1="500.0" y1="993.0" x2="528.0" y2="993.0" stroke="#3a3a3a" stroke-width="1.17" stroke-dasharray="3 2"/>
<line x1="418.0" y1="964.3" x2="418.0" y2="1000.2" stroke="#111" stroke-width="1.30"/>
<line x1="497.0" y1="964.3" x2="497.0" y2="1000.2" stroke="#111" stroke-width="1.30"/>
<rect x="381.9" y="970.0" width="3.1" height="24.0" rx="0" fill="#fff" stroke="#111" stroke-width="1.25"/>
<rect x="376.6" y="966.4" width="5.3" height="31.6" rx="1.5" fill="#fff" stroke="#111" stroke-width="1.50"/>
<rect x="530.7" y="975.0" width="3.7" height="18.0" rx="0" fill="#fff" stroke="#111" stroke-width="1.25"/>
<rect x="534.4" y="966.8" width="4.4" height="33.8" rx="1.5" fill="#fff" stroke="#111" stroke-width="1.50"/>
<path d="M416.5,941 L443.1,941 L443.1,966 L429.8,972 L416.5,966 Z" fill="#fff" stroke="#111" stroke-width="1.38"/>
<line x1="423.8" y1="943.0" x2="423.8" y2="966.0" stroke="#3a3a3a" stroke-width="1.17" stroke-dasharray="3 2"/>
<line x1="435.8" y1="943.0" x2="435.8" y2="966.0" stroke="#3a3a3a" stroke-width="1.17" stroke-dasharray="3 2"/>
<rect x="422.8" y="938.1" width="14.0" height="2.9" rx="0" fill="#fff" stroke="#111" stroke-width="1.25"/>
<rect x="417.5" y="933.2" width="24.6" height="4.9" rx="2" fill="#fff" stroke="#111" stroke-width="1.50"/>
<line x1="429.8" y1="928.0" x2="429.8" y2="1000.0" stroke="#222" stroke-width="1.04" stroke-dasharray="12 2 2 2"/>
<path d="M443.8,941 L470.40000000000003,941 L470.40000000000003,966 L457.1,972 L443.8,966 Z" fill="#fff" stroke="#111" stroke-width="1.38"/>
<line x1="451.1" y1="943.0" x2="451.1" y2="966.0" stroke="#3a3a3a" stroke-width="1.17" stroke-dasharray="3 2"/>
<line x1="463.1" y1="943.0" x2="463.1" y2="966.0" stroke="#3a3a3a" stroke-width="1.17" stroke-dasharray="3 2"/>
<rect x="450.1" y="938.1" width="14.0" height="2.9" rx="0" fill="#fff" stroke="#111" stroke-width="1.25"/>
<rect x="444.8" y="933.2" width="24.6" height="4.9" rx="2" fill="#fff" stroke="#111" stroke-width="1.50"/>
<line x1="457.1" y1="928.0" x2="457.1" y2="1000.0" stroke="#222" stroke-width="1.04" stroke-dasharray="12 2 2 2"/>
<path d="M471.09999999999997,941 L497.7,941 L497.7,966 L484.4,972 L471.09999999999997,966 Z" fill="#fff" stroke="#111" stroke-width="1.38"/>
<line x1="478.4" y1="943.0" x2="478.4" y2="966.0" stroke="#3a3a3a" stroke-width="1.17" stroke-dasharray="3 2"/>
<line x1="490.4" y1="943.0" x2="490.4" y2="966.0" stroke="#3a3a3a" stroke-width="1.17" stroke-dasharray="3 2"/>
<rect x="477.4" y="938.1" width="14.0" height="2.9" rx="0" fill="#fff" stroke="#111" stroke-width="1.25"/>
<rect x="472.1" y="933.2" width="24.6" height="4.9" rx="2" fill="#fff" stroke="#111" stroke-width="1.50"/>
<line x1="484.4" y1="928.0" x2="484.4" y2="1000.0" stroke="#222" stroke-width="1.04" stroke-dasharray="12 2 2 2"/>
<circle cx="407.2" cy="955.4" r="10.6" fill="#fff" stroke="#111" stroke-width="1.50"/>
<circle cx="407.2" cy="955.4" r="5.3" fill="#fff" stroke="#111" stroke-width="1.50"/>
<circle cx="508.5" cy="956.7" r="10.7" fill="#fff" stroke="#111" stroke-width="1.50"/>
<circle cx="508.5" cy="956.7" r="5.7" fill="#fff" stroke="#111" stroke-width="1.50"/>
<line x1="395.0" y1="955.4" x2="420.0" y2="955.4" stroke="#222" stroke-width="1.04" stroke-dasharray="12 2 2 2"/>
<line x1="407.2" y1="944.0" x2="407.2" y2="968.0" stroke="#222" stroke-width="1.04" stroke-dasharray="12 2 2 2"/>
<line x1="360.0" y1="977.6" x2="545.0" y2="977.6" stroke="#222" stroke-width="1.04" stroke-dasharray="12 2 2 2"/>
<line x1="319.5" y1="932.8" x2="416.0" y2="932.8" stroke="#111" stroke-width="1.30"/>
<line x1="319.5" y1="981.1" x2="376.2" y2="981.1" stroke="#111" stroke-width="1.17"/>
<line x1="320.9" y1="932.8" x2="320.9" y2="981.1" stroke="#111" stroke-width="1.17"/>
<path d="M320.9,932.8 L322.8,939.8 L319.0,939.8 Z" fill="#111"/>
<path d="M320.9,981.1 L319.0,974.1 L322.8,974.1 Z" fill="#111"/>
<text x="0" y="0" font-size="10.5" text-anchor="middle" fill="#1a1a1a" transform="translate(313.3 955.4) rotate(-90) translate(0 3.8)">L2</text>
<line x1="337.0" y1="976.4" x2="376.0" y2="976.4" stroke="#111" stroke-width="1.17"/>
<line x1="337.7" y1="932.8" x2="337.7" y2="976.4" stroke="#111" stroke-width="1.17"/>
<path d="M337.7,932.8 L339.6,939.8 L335.8,939.8 Z" fill="#111"/>
<path d="M337.7,976.4 L335.8,969.4 L339.6,969.4 Z" fill="#111"/>
<text x="0" y="0" font-size="10.5" text-anchor="middle" fill="#1a1a1a" transform="translate(331.9 954.6) rotate(-90) translate(0 3.8)">M2</text>
<line x1="354.0" y1="963.4" x2="384.2" y2="963.4" stroke="#111" stroke-width="1.17"/>
<line x1="354.0" y1="998.9" x2="384.0" y2="998.9" stroke="#111" stroke-width="1.17"/>
<line x1="354.0" y1="945.0" x2="354.0" y2="998.9" stroke="#111" stroke-width="1.17"/>
<path d="M354.0,963.4 L355.9,970.4 L352.1,970.4 Z" fill="#111"/>
<path d="M354.0,998.9 L352.1,991.9 L355.9,991.9 Z" fill="#111"/>
<text x="0" y="0" font-size="10.5" text-anchor="middle" fill="#1a1a1a" transform="translate(350.5 950.1) rotate(-90) translate(0 3.8)">⌀D2</text>
<line x1="407.3" y1="893.9" x2="407.3" y2="944.0" stroke="#111" stroke-width="1.17"/>
<line x1="508.5" y1="893.9" x2="508.5" y2="946.0" stroke="#111" stroke-width="1.17"/>
<line x1="407.3" y1="894.2" x2="508.5" y2="894.2" stroke="#111" stroke-width="1.17"/>
<path d="M407.3,894.2 L414.3,892.3 L414.3,896.1 Z" fill="#111"/>
<path d="M508.5,894.2 L501.5,896.1 L501.5,892.3 Z" fill="#111"/>
<text x="455.8" y="892.3" font-size="10.5" font-weight="normal" text-anchor="middle" fill="#1a1a1a" >Q1</text>
<line x1="415.3" y1="912.0" x2="415.3" y2="933.0" stroke="#111" stroke-width="1.17"/>
<line x1="444.9" y1="912.0" x2="444.9" y2="933.0" stroke="#111" stroke-width="1.17"/>
<line x1="415.3" y1="917.8" x2="444.9" y2="917.8" stroke="#111" stroke-width="1.17"/>
<path d="M415.3,917.8 L422.3,915.9 L422.3,919.7 Z" fill="#111"/>
<path d="M444.9,917.8 L437.9,919.7 L437.9,915.9 Z" fill="#111"/>
<text x="430.7" y="915.1" font-size="10.5" font-weight="normal" text-anchor="middle" fill="#1a1a1a" >⌀D1</text>
<text x="341.3" y="903.0" font-size="11" font-weight="normal" text-anchor="start" fill="#1a1a1a" letter-spacing="0.5">3×ⓐ</text>
<text x="341.0" y="914.4" font-size="10.3" font-weight="normal" text-anchor="start" fill="#1a1a1a" >适合管子</text>
<line x1="335.6" y1="917.2" x2="401.6" y2="917.2" stroke="#6a6a6a" stroke-width="1.04"/>
<line x1="401.6" y1="917.2" x2="430.1" y2="932.7" stroke="#111" stroke-width="1.17"/>
<path d="M430.1,932.7 L423.0,931.0 L424.9,927.7 Z" fill="#111"/>
<line x1="502.4" y1="965.2" x2="524.7" y2="937.8" stroke="#111" stroke-width="1.17"/>
<text x="0" y="0" font-size="10.5" text-anchor="middle" fill="#1a1a1a" transform="translate(518.6 931.8) rotate(-58) translate(0 3.8)">ø8</text>
<line x1="511.5" y1="955.0" x2="548.0" y2="941.3" stroke="#111" stroke-width="1.17"/>
<line x1="548.0" y1="941.3" x2="604.0" y2="941.3" stroke="#6a6a6a" stroke-width="1.04"/>
<text x="549.0" y="938.8" font-size="10.3" font-weight="normal" text-anchor="start" fill="#1a1a1a" letter-spacing="0.2">2×4.5安装孔</text>
<line x1="519.6" y1="957.0" x2="562.0" y2="957.0" stroke="#111" stroke-width="1.17"/>
<line x1="540.0" y1="982.4" x2="562.0" y2="982.4" stroke="#111" stroke-width="1.17"/>
<line x1="561.1" y1="957.0" x2="561.1" y2="982.4" stroke="#111" stroke-width="1.17"/>
<path d="M561.1,957.0 L563.0,964.0 L559.2,964.0 Z" fill="#111"/>
<path d="M561.1,982.4 L559.2,975.4 L563.0,975.4 Z" fill="#111"/>
<text x="0" y="0" font-size="10.5" text-anchor="middle" fill="#1a1a1a" transform="translate(555.0 969.8) rotate(-90) translate(0 3.8)">Q2</text>
<line x1="376.8" y1="998.0" x2="376.8" y2="1042.0" stroke="#111" stroke-width="1.17"/>
<line x1="537.8" y1="1000.6" x2="537.8" y2="1042.0" stroke="#111" stroke-width="1.17"/>
<line x1="423.4" y1="1000.0" x2="423.4" y2="1023.0" stroke="#111" stroke-width="1.17"/>
<line x1="429.8" y1="1000.0" x2="429.8" y2="1023.0" stroke="#111" stroke-width="1.17"/>
<line x1="457.1" y1="1000.0" x2="457.1" y2="1023.0" stroke="#111" stroke-width="1.17"/>
<line x1="484.4" y1="1000.0" x2="484.4" y2="1023.0" stroke="#111" stroke-width="1.17"/>
<line x1="376.8" y1="1020.8" x2="423.4" y2="1020.8" stroke="#111" stroke-width="1.17"/>
<path d="M376.8,1020.8 L383.8,1018.9 L383.8,1022.7 Z" fill="#111"/>
<path d="M423.4,1020.8 L416.4,1022.7 L416.4,1018.9 Z" fill="#111"/>
<line x1="429.8" y1="1020.6" x2="457.1" y2="1020.6" stroke="#111" stroke-width="1.17"/>
<path d="M429.8,1020.6 L436.8,1018.7 L436.8,1022.5 Z" fill="#111"/>
<path d="M457.1,1020.6 L450.1,1022.5 L450.1,1018.7 Z" fill="#111"/>
<line x1="457.1" y1="1020.6" x2="484.4" y2="1020.6" stroke="#111" stroke-width="1.17"/>
<path d="M457.1,1020.6 L464.1,1018.7 L464.1,1022.5 Z" fill="#111"/>
<path d="M484.4,1020.6 L477.4,1022.5 L477.4,1018.7 Z" fill="#111"/>
<line x1="376.8" y1="1039.8" x2="537.8" y2="1039.8" stroke="#111" stroke-width="1.17"/>
<path d="M376.8,1039.8 L383.8,1037.9 L383.8,1041.7 Z" fill="#111"/>
<path d="M537.8,1039.8 L530.8,1041.7 L530.8,1037.9 Z" fill="#111"/>
<text x="400.9" y="1017.9" font-size="10.5" font-weight="normal" text-anchor="middle" fill="#1a1a1a" >M1</text>
<text x="444.0" y="1017.9" font-size="10.5" font-weight="normal" text-anchor="middle" fill="#1a1a1a" >P</text>
<text x="472.8" y="1017.9" font-size="10.5" font-weight="normal" text-anchor="middle" fill="#1a1a1a" >P</text>
<text x="457.0" y="1037.0" font-size="10.5" font-weight="normal" text-anchor="middle" fill="#1a1a1a" >L1</text>
<text x="268.2" y="1025.2" font-size="10.5" font-weight="normal" text-anchor="start" fill="#1a1a1a" letter-spacing="0.3">2×ⓑ适合管子</text>
<line x1="268.0" y1="1028.9" x2="361.4" y2="1028.9" stroke="#6a6a6a" stroke-width="1.04"/>
<line x1="361.4" y1="1028.9" x2="375.6" y2="980.3" stroke="#111" stroke-width="1.17"/>
<path d="M375.6,980.3 L375.5,987.6 L371.8,986.5 Z" fill="#111"/>
</svg></body></html>
